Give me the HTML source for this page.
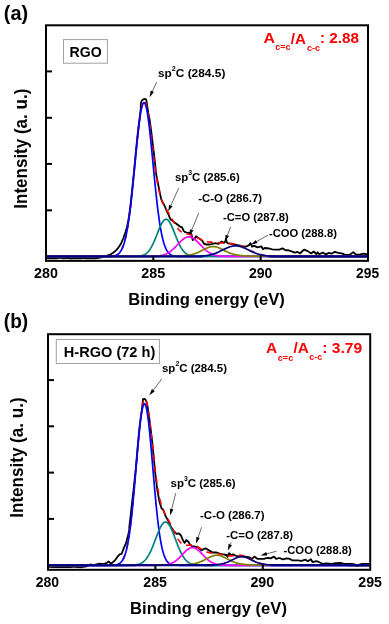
<!DOCTYPE html><html><head><meta charset="utf-8"><style>html,body{margin:0;padding:0;background:#fff;}svg{display:block;will-change:transform;}text{font-family:"Liberation Sans", sans-serif;font-weight:bold;}</style></head><body>
<svg width="389" height="624" viewBox="0 0 389 624">
<rect width="389" height="624" fill="#fff"/>
<clipPath id="clipa"><rect x="47" y="26.3" width="320" height="233.55"/></clipPath>
<g clip-path="url(#clipa)">
<path d="M46.00,258.02 L48.50,258.23 L51.00,258.11 L53.50,258.27 L56.00,258.29 L58.50,257.90 L61.00,257.86 L63.50,258.44 L66.00,258.03 L68.50,258.01 L71.00,258.55 L73.50,258.18 L76.00,258.44 L78.50,258.18 L81.00,258.30 L83.50,257.96 L86.00,258.29 L88.50,258.46 L91.00,258.22 L93.50,258.37 L96.00,258.32 L98.50,257.89 L100.00,257.60 L105.30,256.00 L110.40,254.50 L113.50,252.50 L116.60,249.90 L119.00,246.80 L121.20,243.20 L123.00,239.00 L124.90,233.90 L126.90,227.50 L128.30,220.60 L129.50,213.00 L130.60,205.10 L130.80,202.10 L131.14,199.10 L131.47,196.10 L131.79,193.10 L132.11,190.10 L132.42,187.10 L132.72,184.10 L133.02,181.10 L133.32,178.10 L133.62,175.10 L133.91,172.10 L134.20,169.10 L134.49,166.10 L134.78,163.10 L135.06,160.10 L135.35,157.10 L135.64,154.10 L135.94,151.10 L136.23,148.10 L136.53,145.10 L136.83,142.10 L137.14,139.10 L137.46,136.10 L137.78,133.10 L138.12,130.10 L138.46,127.10 L138.82,124.10 L139.21,121.10 L139.61,118.10 L140.80,108.00 L140.80,104.00 L141.60,100.90 L143.20,99.40 L145.30,98.80 L146.20,99.60 L146.70,102.50 L147.30,106.50 L148.30,113.00 L149.50,119.00 L150.50,126.00 L151.50,133.50 L152.90,145.00 L154.10,154.60 L155.10,164.20 L156.10,173.80 L158.00,183.50 L159.90,193.10 L161.20,199.00 L162.30,201.80 L164.20,205.00 L166.70,210.80 L168.00,213.50 L170.50,219.40 L173.80,221.90 L177.00,224.30 L180.30,226.80 L182.00,227.20 L183.60,230.90 L185.30,232.20 L187.70,233.00 L190.20,232.60 L191.40,234.20 L192.70,240.00 L194.30,239.10 L196.00,236.20 L197.60,237.50 L200.90,239.50 L202.60,241.20 L204.20,244.00 L206.70,244.50 L210.00,244.50 L213.30,243.60 L215.70,243.20 L218.20,244.00 L220.30,242.40 L221.50,241.60 L224.00,242.80 L225.20,241.60 L226.00,238.50 L226.80,242.40 L228.00,243.40 L230.50,243.60 L233.50,244.30 L237.40,245.10 L242.00,246.20 L245.90,246.70 L249.00,245.10 L250.50,243.10 L252.00,246.70 L254.40,245.90 L257.40,247.40 L260.50,246.70 L261.50,246.50 L262.80,249.20 L264.60,248.00 L269.30,248.50 L272.00,249.30 L275.40,249.60 L279.30,249.60 L282.40,248.30 L285.50,250.30 L288.00,250.20 L290.90,251.10 L294.70,252.70 L297.80,251.90 L300.10,253.40 L302.00,251.50 L304.00,249.60 L307.80,251.10 L310.90,253.40 L314.00,251.60 L316.30,254.20 L317.60,252.30 L319.20,254.30 L322.80,252.60 L325.60,254.30 L329.10,252.80 L331.30,253.80 L334.80,251.90 L338.30,252.80 L342.60,253.60 L345.40,255.00 L349.60,255.00 L353.20,252.10 L356.00,254.70 L360.20,254.30 L363.80,253.60 L366.60,254.30 L368.00,254.00" fill="none" stroke="#000" stroke-width="1.8" stroke-linejoin="round"/>
<path d="M46.00,256.43 L46.50,256.43 L47.00,256.43 L47.50,256.43 L48.00,256.43 L48.50,256.43 L49.00,256.43 L49.50,256.43 L50.00,256.43 L50.50,256.43 L51.00,256.43 L51.50,256.43 L52.00,256.43 L52.50,256.43 L53.00,256.43 L53.50,256.43 L54.00,256.43 L54.50,256.43 L55.00,256.43 L55.50,256.43 L56.00,256.43 L56.50,256.43 L57.00,256.43 L57.50,256.43 L58.00,256.43 L58.50,256.43 L59.00,256.43 L59.50,256.43 L60.00,256.43 L60.50,256.43 L61.00,256.43 L61.50,256.43 L62.00,256.43 L62.50,256.43 L63.00,256.43 L63.50,256.43 L64.00,256.43 L64.50,256.43 L65.00,256.43 L65.50,256.43 L66.00,256.43 L66.50,256.43 L67.00,256.43 L67.50,256.43 L68.00,256.43 L68.50,256.42 L69.00,256.42 L69.50,256.42 L70.00,256.42 L70.50,256.42 L71.00,256.42 L71.50,256.42 L72.00,256.42 L72.50,256.42 L73.00,256.42 L73.50,256.42 L74.00,256.42 L74.50,256.42 L75.00,256.42 L75.50,256.42 L76.00,256.42 L76.50,256.42 L77.00,256.42 L77.50,256.42 L78.00,256.42 L78.50,256.42 L79.00,256.42 L79.50,256.42 L80.00,256.42 L80.50,256.42 L81.00,256.42 L81.50,256.42 L82.00,256.42 L82.50,256.42 L83.00,256.42 L83.50,256.42 L84.00,256.42 L84.50,256.42 L85.00,256.42 L85.50,256.42 L86.00,256.42 L86.50,256.42 L87.00,256.42 L87.50,256.42 L88.00,256.42 L88.50,256.42 L89.00,256.42 L89.50,256.42 L90.00,256.42 L90.50,256.42 L91.00,256.41 L91.50,256.41 L92.00,256.41 L92.50,256.41 L93.00,256.41 L93.50,256.41 L94.00,256.41 L94.50,256.41 L95.00,256.41 L95.50,256.41 L96.00,256.41 L96.50,256.41 L97.00,256.41 L97.50,256.41 L98.00,256.41 L98.50,256.41 L99.00,256.41 L99.50,256.41 L100.00,256.41 L100.50,256.41 L101.00,256.41 L101.50,256.41 L102.00,256.41 L102.50,256.40 L103.00,256.40 L103.50,256.40 L104.00,256.40 L104.50,256.40 L105.00,256.39 L105.50,256.39 L106.00,256.38 L106.50,256.38 L107.00,256.37 L107.50,256.36 L108.00,256.35 L108.50,256.34 L109.00,256.32 L109.50,256.31 L110.00,256.28 L110.50,256.25 L111.00,256.22 L111.50,256.18 L112.00,256.13 L112.50,256.07 L113.00,256.00 L113.50,255.92 L114.00,255.82 L114.50,255.70 L115.00,255.56 L115.50,255.40 L116.00,255.21 L116.50,254.98 L117.00,254.72 L117.50,254.42 L118.00,254.07 L118.50,253.67 L119.00,253.21 L119.50,252.68 L120.00,252.07 L120.50,251.39 L121.00,250.61 L121.50,249.73 L122.00,248.75 L122.50,247.64 L123.00,246.41 L123.50,245.04 L124.00,243.52 L124.50,241.84 L125.00,240.00 L125.50,237.98 L126.00,235.77 L126.50,233.37 L127.00,230.77 L127.50,227.96 L128.00,224.95 L128.50,221.72 L129.00,218.28 L129.50,214.62 L130.00,210.76 L130.50,206.70 L131.00,202.44 L131.50,198.00 L132.00,193.38 L132.50,188.62 L133.00,183.71 L133.50,178.69 L134.00,173.59 L134.50,168.42 L135.00,163.21 L135.50,158.00 L136.00,152.82 L136.50,147.70 L137.00,142.67 L137.50,137.78 L138.00,133.06 L138.50,128.55 L139.00,124.27 L139.50,120.26 L140.00,116.56 L140.50,113.19 L141.00,110.19 L141.50,107.57 L142.00,105.35 L142.50,103.56 L143.00,102.21 L143.50,101.30 L144.00,100.84 L144.50,100.83 L145.00,101.26 L145.50,102.13 L146.00,103.41 L146.50,105.11 L147.00,107.18 L147.50,109.62 L148.00,112.38 L148.50,115.44 L149.00,118.77 L149.50,122.33 L150.00,126.08 L150.50,129.99 L151.00,134.02 L151.50,138.13 L152.00,142.29 L152.50,146.47 L153.00,150.62 L153.50,154.72 L154.00,158.75 L154.50,162.67 L155.00,166.46 L155.50,170.10 L156.00,173.58 L156.50,176.89 L157.00,180.01 L157.50,182.94 L158.00,185.67 L158.50,188.21 L159.00,190.56 L159.50,192.72 L160.00,194.70 L160.50,196.51 L161.00,198.16 L161.50,199.66 L162.00,201.03 L162.50,202.29 L163.00,203.43 L163.50,204.49 L164.00,205.48 L164.50,206.40 L165.00,207.27 L165.50,208.11 L166.00,208.92 L166.50,209.71 L167.00,210.51 L167.50,211.30 L168.00,212.09 L168.50,212.90 L169.00,213.73 L169.50,214.57 L170.00,215.42 L170.50,216.29 L171.00,217.18 L171.50,218.07 L172.00,218.98 L172.50,219.88 L173.00,220.79 L173.50,221.69 L174.00,222.58 L174.50,223.45 L175.00,224.30 L175.50,225.13 L176.00,225.93 L176.50,226.69 L177.00,227.42 L177.50,228.11 L178.00,228.75 L178.50,229.35 L179.00,229.90 L179.50,230.41 L180.00,230.88 L180.50,231.29 L181.00,231.67 L181.50,232.00 L182.00,232.30 L182.50,232.56 L183.00,232.78 L183.50,232.98 L184.00,233.15 L184.50,233.30 L185.00,233.43 L185.50,233.54 L186.00,233.64 L186.50,233.74 L187.00,233.83 L187.50,233.92 L188.00,234.01 L188.50,234.10 L189.00,234.21 L189.50,234.32 L190.00,234.44 L190.50,234.57 L191.00,234.72 L191.50,234.88 L192.00,235.06 L192.50,235.25 L193.00,235.46 L193.50,235.67 L194.00,235.91 L194.50,236.15 L195.00,236.40 L195.50,236.67 L196.00,236.94 L196.50,237.22 L197.00,237.50 L197.50,237.78 L198.00,238.07 L198.50,238.36 L199.00,238.64 L199.50,238.92 L200.00,239.19 L200.50,239.45 L201.00,239.71 L201.50,239.95 L202.00,240.18 L202.50,240.41 L203.00,240.61 L203.50,240.81 L204.00,240.98 L204.50,241.15 L205.00,241.30 L205.50,241.43 L206.00,241.55 L206.50,241.66 L207.00,241.75 L207.50,241.83 L208.00,241.90 L208.50,241.95 L209.00,242.00 L209.50,242.05 L210.00,242.08 L210.50,242.11 L211.00,242.14 L211.50,242.16 L212.00,242.19 L212.50,242.21 L213.00,242.24 L213.50,242.26 L214.00,242.29 L214.50,242.32 L215.00,242.35 L215.50,242.39 L216.00,242.43 L216.50,242.47 L217.00,242.52 L217.50,242.56 L218.00,242.61 L218.50,242.65 L219.00,242.70 L219.50,242.75 L220.00,242.79 L220.50,242.84 L221.00,242.88 L221.50,242.92 L222.00,242.96 L222.50,243.00 L223.00,243.04 L223.50,243.07 L224.00,243.10 L224.50,243.13 L225.00,243.16 L225.50,243.19 L226.00,243.21 L226.50,243.24 L227.00,243.26 L227.50,243.28 L228.00,243.31 L228.50,243.33 L229.00,243.36 L229.50,243.39 L230.00,243.42 L230.50,243.46 L231.00,243.50 L231.50,243.55 L232.00,243.60 L232.50,243.65 L233.00,243.72 L233.50,243.79 L234.00,243.86 L234.50,243.95 L235.00,244.04 L235.50,244.14 L236.00,244.25 L236.50,244.37 L237.00,244.50 L237.50,244.64 L238.00,244.79 L238.50,244.94 L239.00,245.11 L239.50,245.29 L240.00,245.47 L240.50,245.66 L241.00,245.87 L241.50,246.08 L242.00,246.29 L242.50,246.52 L243.00,246.75 L243.50,246.99 L244.00,247.23 L244.50,247.48 L245.00,247.73 L245.50,247.98 L246.00,248.24 L246.50,248.50 L247.00,248.77 L247.50,249.03 L248.00,249.29 L248.50,249.56 L249.00,249.82 L249.50,250.08 L250.00,250.34 L250.50,250.59 L251.00,250.85 L251.50,251.10 L252.00,251.34 L252.50,251.58 L253.00,251.81 L253.50,252.04 L254.00,252.26 L254.50,252.48 L255.00,252.69 L255.50,252.89 L256.00,253.09 L256.50,253.28 L257.00,253.46 L257.50,253.64 L258.00,253.81 L258.50,253.97 L259.00,254.12 L259.50,254.27 L260.00,254.41 L260.50,254.54 L261.00,254.67 L261.50,254.78 L262.00,254.90 L262.50,255.00 L263.00,255.10 L263.50,255.20 L264.00,255.28 L264.50,255.37 L265.00,255.44 L265.50,255.52 L266.00,255.58 L266.50,255.65 L267.00,255.71 L267.50,255.76 L268.00,255.81 L268.50,255.86 L269.00,255.90 L269.50,255.94 L270.00,255.98 L270.50,256.01 L271.00,256.04 L271.50,256.07 L272.00,256.09 L272.50,256.12 L273.00,256.14 L273.50,256.16 L274.00,256.18 L274.50,256.20 L275.00,256.21 L275.50,256.22 L276.00,256.24 L276.50,256.25 L277.00,256.26 L277.50,256.27 L278.00,256.28 L278.50,256.29 L279.00,256.29 L279.50,256.30 L280.00,256.31 L280.50,256.31 L281.00,256.32 L281.50,256.32 L282.00,256.32 L282.50,256.33 L283.00,256.33 L283.50,256.33 L284.00,256.34 L284.50,256.34 L285.00,256.34 L285.50,256.35 L286.00,256.35 L286.50,256.35 L287.00,256.35 L287.50,256.35 L288.00,256.36 L288.50,256.36 L289.00,256.36 L289.50,256.36 L290.00,256.36 L290.50,256.36 L291.00,256.36 L291.50,256.37 L292.00,256.37 L292.50,256.37 L293.00,256.37 L293.50,256.37 L294.00,256.37 L294.50,256.37 L295.00,256.37 L295.50,256.37 L296.00,256.37 L296.50,256.38 L297.00,256.38 L297.50,256.38 L298.00,256.38 L298.50,256.38 L299.00,256.38 L299.50,256.38 L300.00,256.38 L300.50,256.38 L301.00,256.38 L301.50,256.38 L302.00,256.38 L302.50,256.39 L303.00,256.39 L303.50,256.39 L304.00,256.39 L304.50,256.39 L305.00,256.39 L305.50,256.39 L306.00,256.39 L306.50,256.39 L307.00,256.39 L307.50,256.39 L308.00,256.39 L308.50,256.39 L309.00,256.39 L309.50,256.39 L310.00,256.39 L310.50,256.40 L311.00,256.40 L311.50,256.40 L312.00,256.40 L312.50,256.40 L313.00,256.40 L313.50,256.40 L314.00,256.40 L314.50,256.40 L315.00,256.40 L315.50,256.40 L316.00,256.40 L316.50,256.40 L317.00,256.40 L317.50,256.40 L318.00,256.40 L318.50,256.40 L319.00,256.40 L319.50,256.40 L320.00,256.40 L320.50,256.40 L321.00,256.41 L321.50,256.41 L322.00,256.41 L322.50,256.41 L323.00,256.41 L323.50,256.41 L324.00,256.41 L324.50,256.41 L325.00,256.41 L325.50,256.41 L326.00,256.41 L326.50,256.41 L327.00,256.41 L327.50,256.41 L328.00,256.41 L328.50,256.41 L329.00,256.41 L329.50,256.41 L330.00,256.41 L330.50,256.41 L331.00,256.41 L331.50,256.41 L332.00,256.41 L332.50,256.41 L333.00,256.41 L333.50,256.41 L334.00,256.41 L334.50,256.41 L335.00,256.41 L335.50,256.42 L336.00,256.42 L336.50,256.42 L337.00,256.42 L337.50,256.42 L338.00,256.42 L338.50,256.42 L339.00,256.42 L339.50,256.42 L340.00,256.42 L340.50,256.42 L341.00,256.42 L341.50,256.42 L342.00,256.42 L342.50,256.42 L343.00,256.42 L343.50,256.42 L344.00,256.42 L344.50,256.42 L345.00,256.42 L345.50,256.42 L346.00,256.42 L346.50,256.42 L347.00,256.42 L347.50,256.42 L348.00,256.42 L348.50,256.42 L349.00,256.42 L349.50,256.42 L350.00,256.42 L350.50,256.42 L351.00,256.42 L351.50,256.42 L352.00,256.42 L352.50,256.42 L353.00,256.42 L353.50,256.42 L354.00,256.42 L354.50,256.42 L355.00,256.42 L355.50,256.42 L356.00,256.42 L356.50,256.42 L357.00,256.42 L357.50,256.42 L358.00,256.42 L358.50,256.43 L359.00,256.43 L359.50,256.43 L360.00,256.43 L360.50,256.43 L361.00,256.43 L361.50,256.43 L362.00,256.43 L362.50,256.43 L363.00,256.43 L363.50,256.43 L364.00,256.43 L364.50,256.43 L365.00,256.43 L365.50,256.43 L366.00,256.43 L366.50,256.43 L367.00,256.43 L367.50,256.43 L368.00,256.43" fill="none" stroke="#ff0000" stroke-width="1.6" stroke-dasharray="6,5"/>
<path d="M46.00,256.45 L46.50,256.45 L47.00,256.45 L47.50,256.45 L48.00,256.45 L48.50,256.45 L49.00,256.45 L49.50,256.45 L50.00,256.45 L50.50,256.45 L51.00,256.45 L51.50,256.45 L52.00,256.45 L52.50,256.45 L53.00,256.45 L53.50,256.45 L54.00,256.45 L54.50,256.45 L55.00,256.45 L55.50,256.45 L56.00,256.45 L56.50,256.45 L57.00,256.45 L57.50,256.45 L58.00,256.45 L58.50,256.45 L59.00,256.45 L59.50,256.45 L60.00,256.45 L60.50,256.45 L61.00,256.45 L61.50,256.45 L62.00,256.45 L62.50,256.45 L63.00,256.45 L63.50,256.45 L64.00,256.45 L64.50,256.45 L65.00,256.45 L65.50,256.45 L66.00,256.45 L66.50,256.45 L67.00,256.45 L67.50,256.45 L68.00,256.45 L68.50,256.45 L69.00,256.45 L69.50,256.45 L70.00,256.45 L70.50,256.45 L71.00,256.45 L71.50,256.45 L72.00,256.45 L72.50,256.45 L73.00,256.45 L73.50,256.45 L74.00,256.45 L74.50,256.45 L75.00,256.45 L75.50,256.45 L76.00,256.45 L76.50,256.45 L77.00,256.45 L77.50,256.45 L78.00,256.45 L78.50,256.45 L79.00,256.45 L79.50,256.45 L80.00,256.45 L80.50,256.45 L81.00,256.45 L81.50,256.45 L82.00,256.45 L82.50,256.45 L83.00,256.45 L83.50,256.45 L84.00,256.45 L84.50,256.45 L85.00,256.45 L85.50,256.45 L86.00,256.45 L86.50,256.45 L87.00,256.45 L87.50,256.45 L88.00,256.45 L88.50,256.45 L89.00,256.45 L89.50,256.45 L90.00,256.45 L90.50,256.45 L91.00,256.45 L91.50,256.45 L92.00,256.45 L92.50,256.45 L93.00,256.45 L93.50,256.45 L94.00,256.45 L94.50,256.45 L95.00,256.45 L95.50,256.45 L96.00,256.45 L96.50,256.45 L97.00,256.45 L97.50,256.45 L98.00,256.45 L98.50,256.45 L99.00,256.45 L99.50,256.45 L100.00,256.45 L100.50,256.45 L101.00,256.45 L101.50,256.45 L102.00,256.45 L102.50,256.45 L103.00,256.45 L103.50,256.44 L104.00,256.44 L104.50,256.44 L105.00,256.44 L105.50,256.43 L106.00,256.43 L106.50,256.42 L107.00,256.42 L107.50,256.41 L108.00,256.40 L108.50,256.39 L109.00,256.37 L109.50,256.35 L110.00,256.33 L110.50,256.30 L111.00,256.27 L111.50,256.23 L112.00,256.18 L112.50,256.12 L113.00,256.05 L113.50,255.97 L114.00,255.87 L114.50,255.75 L115.00,255.62 L115.50,255.45 L116.00,255.26 L116.50,255.04 L117.00,254.78 L117.50,254.48 L118.00,254.13 L118.50,253.73 L119.00,253.27 L119.50,252.74 L120.00,252.13 L120.50,251.45 L121.00,250.67 L121.50,249.80 L122.00,248.81 L122.50,247.71 L123.00,246.48 L123.50,245.11 L124.00,243.59 L124.50,241.91 L125.00,240.07 L125.50,238.04 L126.00,235.84 L126.50,233.44 L127.00,230.84 L127.50,228.03 L128.00,225.02 L128.50,221.79 L129.00,218.36 L129.50,214.71 L130.00,210.85 L130.50,206.79 L131.00,202.53 L131.50,198.09 L132.00,193.48 L132.50,188.72 L133.00,183.83 L133.50,178.82 L134.00,173.72 L134.50,168.56 L135.00,163.37 L135.50,158.18 L136.00,153.02 L136.50,147.92 L137.00,142.93 L137.50,138.08 L138.00,133.39 L138.50,128.93 L139.00,124.70 L139.50,120.76 L140.00,117.14 L140.50,113.86 L141.00,110.96 L141.50,108.45 L142.00,106.37 L142.50,104.73 L143.00,103.55 L143.50,102.84 L144.00,102.60 L144.50,102.84 L145.00,103.55 L145.50,104.73 L146.00,106.37 L146.50,108.45 L147.00,110.96 L147.50,113.86 L148.00,117.14 L148.50,120.76 L149.00,124.70 L149.50,128.93 L150.00,133.39 L150.50,138.08 L151.00,142.93 L151.50,147.92 L152.00,153.02 L152.50,158.18 L153.00,163.37 L153.50,168.56 L154.00,173.72 L154.50,178.82 L155.00,183.83 L155.50,188.72 L156.00,193.48 L156.50,198.09 L157.00,202.53 L157.50,206.79 L158.00,210.85 L158.50,214.71 L159.00,218.36 L159.50,221.79 L160.00,225.02 L160.50,228.03 L161.00,230.84 L161.50,233.44 L162.00,235.84 L162.50,238.04 L163.00,240.07 L163.50,241.91 L164.00,243.59 L164.50,245.11 L165.00,246.48 L165.50,247.71 L166.00,248.81 L166.50,249.80 L167.00,250.67 L167.50,251.45 L168.00,252.13 L168.50,252.74 L169.00,253.27 L169.50,253.73 L170.00,254.13 L170.50,254.48 L171.00,254.78 L171.50,255.04 L172.00,255.26 L172.50,255.45 L173.00,255.62 L173.50,255.75 L174.00,255.87 L174.50,255.97 L175.00,256.05 L175.50,256.12 L176.00,256.18 L176.50,256.23 L177.00,256.27 L177.50,256.30 L178.00,256.33 L178.50,256.35 L179.00,256.37 L179.50,256.39 L180.00,256.40 L180.50,256.41 L181.00,256.42 L181.50,256.42 L182.00,256.43 L182.50,256.43 L183.00,256.44 L183.50,256.44 L184.00,256.44 L184.50,256.44 L185.00,256.45 L185.50,256.45 L186.00,256.45 L186.50,256.45 L187.00,256.45 L187.50,256.45 L188.00,256.45 L188.50,256.45 L189.00,256.45 L189.50,256.45 L190.00,256.45 L190.50,256.45 L191.00,256.45 L191.50,256.45 L192.00,256.45 L192.50,256.45 L193.00,256.45 L193.50,256.45 L194.00,256.45 L194.50,256.45 L195.00,256.45 L195.50,256.45 L196.00,256.45 L196.50,256.45 L197.00,256.45 L197.50,256.45 L198.00,256.45 L198.50,256.45 L199.00,256.45 L199.50,256.45 L200.00,256.45 L200.50,256.45 L201.00,256.45 L201.50,256.45 L202.00,256.45 L202.50,256.45 L203.00,256.45 L203.50,256.45 L204.00,256.45 L204.50,256.45 L205.00,256.45 L205.50,256.45 L206.00,256.45 L206.50,256.45 L207.00,256.45 L207.50,256.45 L208.00,256.45 L208.50,256.45 L209.00,256.45 L209.50,256.45 L210.00,256.45 L210.50,256.45 L211.00,256.45 L211.50,256.45 L212.00,256.45 L212.50,256.45 L213.00,256.45 L213.50,256.45 L214.00,256.45 L214.50,256.45 L215.00,256.45 L215.50,256.45 L216.00,256.45 L216.50,256.45 L217.00,256.45 L217.50,256.45 L218.00,256.45 L218.50,256.45 L219.00,256.45 L219.50,256.45 L220.00,256.45 L220.50,256.45 L221.00,256.45 L221.50,256.45 L222.00,256.45 L222.50,256.45 L223.00,256.45 L223.50,256.45 L224.00,256.45 L224.50,256.45 L225.00,256.45 L225.50,256.45 L226.00,256.45 L226.50,256.45 L227.00,256.45 L227.50,256.45 L228.00,256.45 L228.50,256.45 L229.00,256.45 L229.50,256.45 L230.00,256.45 L230.50,256.45 L231.00,256.45 L231.50,256.45 L232.00,256.45 L232.50,256.45 L233.00,256.45 L233.50,256.45 L234.00,256.45 L234.50,256.45 L235.00,256.45 L235.50,256.45 L236.00,256.45 L236.50,256.45 L237.00,256.45 L237.50,256.45 L238.00,256.45 L238.50,256.45 L239.00,256.45 L239.50,256.45 L240.00,256.45 L240.50,256.45 L241.00,256.45 L241.50,256.45 L242.00,256.45 L242.50,256.45 L243.00,256.45 L243.50,256.45 L244.00,256.45 L244.50,256.45 L245.00,256.45 L245.50,256.45 L246.00,256.45 L246.50,256.45 L247.00,256.45 L247.50,256.45 L248.00,256.45 L248.50,256.45 L249.00,256.45 L249.50,256.45 L250.00,256.45 L250.50,256.45 L251.00,256.45 L251.50,256.45 L252.00,256.45 L252.50,256.45 L253.00,256.45 L253.50,256.45 L254.00,256.45 L254.50,256.45 L255.00,256.45 L255.50,256.45 L256.00,256.45 L256.50,256.45 L257.00,256.45 L257.50,256.45 L258.00,256.45 L258.50,256.45 L259.00,256.45 L259.50,256.45 L260.00,256.45 L260.50,256.45 L261.00,256.45 L261.50,256.45 L262.00,256.45 L262.50,256.45 L263.00,256.45 L263.50,256.45 L264.00,256.45 L264.50,256.45 L265.00,256.45 L265.50,256.45 L266.00,256.45 L266.50,256.45 L267.00,256.45 L267.50,256.45 L268.00,256.45 L268.50,256.45 L269.00,256.45 L269.50,256.45 L270.00,256.45 L270.50,256.45 L271.00,256.45 L271.50,256.45 L272.00,256.45 L272.50,256.45 L273.00,256.45 L273.50,256.45 L274.00,256.45 L274.50,256.45 L275.00,256.45 L275.50,256.45 L276.00,256.45 L276.50,256.45 L277.00,256.45 L277.50,256.45 L278.00,256.45 L278.50,256.45 L279.00,256.45 L279.50,256.45 L280.00,256.45 L280.50,256.45 L281.00,256.45 L281.50,256.45 L282.00,256.45 L282.50,256.45 L283.00,256.45 L283.50,256.45 L284.00,256.45 L284.50,256.45 L285.00,256.45 L285.50,256.45 L286.00,256.45 L286.50,256.45 L287.00,256.45 L287.50,256.45 L288.00,256.45 L288.50,256.45 L289.00,256.45 L289.50,256.45 L290.00,256.45 L290.50,256.45 L291.00,256.45 L291.50,256.45 L292.00,256.45 L292.50,256.45 L293.00,256.45 L293.50,256.45 L294.00,256.45 L294.50,256.45 L295.00,256.45 L295.50,256.45 L296.00,256.45 L296.50,256.45 L297.00,256.45 L297.50,256.45 L298.00,256.45 L298.50,256.45 L299.00,256.45 L299.50,256.45 L300.00,256.45 L300.50,256.45 L301.00,256.45 L301.50,256.45 L302.00,256.45 L302.50,256.45 L303.00,256.45 L303.50,256.45 L304.00,256.45 L304.50,256.45 L305.00,256.45 L305.50,256.45 L306.00,256.45 L306.50,256.45 L307.00,256.45 L307.50,256.45 L308.00,256.45 L308.50,256.45 L309.00,256.45 L309.50,256.45 L310.00,256.45 L310.50,256.45 L311.00,256.45 L311.50,256.45 L312.00,256.45 L312.50,256.45 L313.00,256.45 L313.50,256.45 L314.00,256.45 L314.50,256.45 L315.00,256.45 L315.50,256.45 L316.00,256.45 L316.50,256.45 L317.00,256.45 L317.50,256.45 L318.00,256.45 L318.50,256.45 L319.00,256.45 L319.50,256.45 L320.00,256.45 L320.50,256.45 L321.00,256.45 L321.50,256.45 L322.00,256.45 L322.50,256.45 L323.00,256.45 L323.50,256.45 L324.00,256.45 L324.50,256.45 L325.00,256.45 L325.50,256.45 L326.00,256.45 L326.50,256.45 L327.00,256.45 L327.50,256.45 L328.00,256.45 L328.50,256.45 L329.00,256.45 L329.50,256.45 L330.00,256.45 L330.50,256.45 L331.00,256.45 L331.50,256.45 L332.00,256.45 L332.50,256.45 L333.00,256.45 L333.50,256.45 L334.00,256.45 L334.50,256.45 L335.00,256.45 L335.50,256.45 L336.00,256.45 L336.50,256.45 L337.00,256.45 L337.50,256.45 L338.00,256.45 L338.50,256.45 L339.00,256.45 L339.50,256.45 L340.00,256.45 L340.50,256.45 L341.00,256.45 L341.50,256.45 L342.00,256.45 L342.50,256.45 L343.00,256.45 L343.50,256.45 L344.00,256.45 L344.50,256.45 L345.00,256.45 L345.50,256.45 L346.00,256.45 L346.50,256.45 L347.00,256.45 L347.50,256.45 L348.00,256.45 L348.50,256.45 L349.00,256.45 L349.50,256.45 L350.00,256.45 L350.50,256.45 L351.00,256.45 L351.50,256.45 L352.00,256.45 L352.50,256.45 L353.00,256.45 L353.50,256.45 L354.00,256.45 L354.50,256.45 L355.00,256.45 L355.50,256.45 L356.00,256.45 L356.50,256.45 L357.00,256.45 L357.50,256.45 L358.00,256.45 L358.50,256.45 L359.00,256.45 L359.50,256.45 L360.00,256.45 L360.50,256.45 L361.00,256.45 L361.50,256.45 L362.00,256.45 L362.50,256.45 L363.00,256.45 L363.50,256.45 L364.00,256.45 L364.50,256.45 L365.00,256.45 L365.50,256.45 L366.00,256.45 L366.50,256.45 L367.00,256.45 L367.50,256.45 L368.00,256.45" fill="none" stroke="#0000ff" stroke-width="1.7"/>
<path d="M46.00,256.45 L46.50,256.45 L47.00,256.45 L47.50,256.45 L48.00,256.45 L48.50,256.45 L49.00,256.45 L49.50,256.45 L50.00,256.45 L50.50,256.45 L51.00,256.45 L51.50,256.45 L52.00,256.45 L52.50,256.45 L53.00,256.45 L53.50,256.45 L54.00,256.45 L54.50,256.45 L55.00,256.45 L55.50,256.45 L56.00,256.45 L56.50,256.45 L57.00,256.45 L57.50,256.45 L58.00,256.45 L58.50,256.45 L59.00,256.45 L59.50,256.45 L60.00,256.45 L60.50,256.45 L61.00,256.45 L61.50,256.45 L62.00,256.45 L62.50,256.45 L63.00,256.45 L63.50,256.45 L64.00,256.45 L64.50,256.45 L65.00,256.45 L65.50,256.45 L66.00,256.45 L66.50,256.45 L67.00,256.45 L67.50,256.45 L68.00,256.45 L68.50,256.45 L69.00,256.45 L69.50,256.45 L70.00,256.45 L70.50,256.45 L71.00,256.45 L71.50,256.45 L72.00,256.45 L72.50,256.45 L73.00,256.45 L73.50,256.45 L74.00,256.45 L74.50,256.45 L75.00,256.45 L75.50,256.45 L76.00,256.45 L76.50,256.45 L77.00,256.45 L77.50,256.45 L78.00,256.45 L78.50,256.45 L79.00,256.45 L79.50,256.45 L80.00,256.45 L80.50,256.45 L81.00,256.45 L81.50,256.45 L82.00,256.45 L82.50,256.45 L83.00,256.45 L83.50,256.45 L84.00,256.45 L84.50,256.45 L85.00,256.45 L85.50,256.45 L86.00,256.45 L86.50,256.45 L87.00,256.45 L87.50,256.45 L88.00,256.45 L88.50,256.45 L89.00,256.45 L89.50,256.45 L90.00,256.45 L90.50,256.45 L91.00,256.45 L91.50,256.45 L92.00,256.45 L92.50,256.45 L93.00,256.45 L93.50,256.45 L94.00,256.45 L94.50,256.45 L95.00,256.45 L95.50,256.45 L96.00,256.45 L96.50,256.45 L97.00,256.45 L97.50,256.45 L98.00,256.45 L98.50,256.45 L99.00,256.45 L99.50,256.45 L100.00,256.45 L100.50,256.45 L101.00,256.45 L101.50,256.45 L102.00,256.45 L102.50,256.45 L103.00,256.45 L103.50,256.45 L104.00,256.45 L104.50,256.45 L105.00,256.45 L105.50,256.45 L106.00,256.45 L106.50,256.45 L107.00,256.45 L107.50,256.45 L108.00,256.45 L108.50,256.45 L109.00,256.45 L109.50,256.45 L110.00,256.45 L110.50,256.45 L111.00,256.45 L111.50,256.45 L112.00,256.45 L112.50,256.45 L113.00,256.45 L113.50,256.45 L114.00,256.45 L114.50,256.45 L115.00,256.45 L115.50,256.45 L116.00,256.45 L116.50,256.45 L117.00,256.45 L117.50,256.45 L118.00,256.45 L118.50,256.45 L119.00,256.45 L119.50,256.45 L120.00,256.45 L120.50,256.45 L121.00,256.45 L121.50,256.45 L122.00,256.45 L122.50,256.45 L123.00,256.45 L123.50,256.45 L124.00,256.45 L124.50,256.45 L125.00,256.45 L125.50,256.45 L126.00,256.45 L126.50,256.45 L127.00,256.45 L127.50,256.45 L128.00,256.45 L128.50,256.45 L129.00,256.44 L129.50,256.44 L130.00,256.44 L130.50,256.44 L131.00,256.44 L131.50,256.43 L132.00,256.43 L132.50,256.42 L133.00,256.42 L133.50,256.41 L134.00,256.40 L134.50,256.39 L135.00,256.37 L135.50,256.36 L136.00,256.34 L136.50,256.31 L137.00,256.28 L137.50,256.25 L138.00,256.21 L138.50,256.16 L139.00,256.11 L139.50,256.04 L140.00,255.97 L140.50,255.88 L141.00,255.78 L141.50,255.67 L142.00,255.54 L142.50,255.39 L143.00,255.21 L143.50,255.02 L144.00,254.80 L144.50,254.55 L145.00,254.28 L145.50,253.97 L146.00,253.62 L146.50,253.24 L147.00,252.81 L147.50,252.35 L148.00,251.84 L148.50,251.28 L149.00,250.68 L149.50,250.02 L150.00,249.31 L150.50,248.55 L151.00,247.74 L151.50,246.87 L152.00,245.95 L152.50,244.98 L153.00,243.96 L153.50,242.89 L154.00,241.78 L154.50,240.63 L155.00,239.44 L155.50,238.22 L156.00,236.98 L156.50,235.71 L157.00,234.44 L157.50,233.16 L158.00,231.89 L158.50,230.63 L159.00,229.40 L159.50,228.19 L160.00,227.03 L160.50,225.91 L161.00,224.86 L161.50,223.87 L162.00,222.96 L162.50,222.14 L163.00,221.40 L163.50,220.77 L164.00,220.24 L164.50,219.82 L165.00,219.51 L165.50,219.32 L166.00,219.25 L166.50,219.30 L167.00,219.46 L167.50,219.75 L168.00,220.15 L168.50,220.65 L169.00,221.27 L169.50,221.98 L170.00,222.79 L170.50,223.68 L171.00,224.66 L171.50,225.70 L172.00,226.80 L172.50,227.96 L173.00,229.15 L173.50,230.38 L174.00,231.64 L174.50,232.91 L175.00,234.19 L175.50,235.46 L176.00,236.73 L176.50,237.97 L177.00,239.20 L177.50,240.39 L178.00,241.55 L178.50,242.67 L179.00,243.75 L179.50,244.78 L180.00,245.76 L180.50,246.69 L181.00,247.57 L181.50,248.39 L182.00,249.16 L182.50,249.88 L183.00,250.55 L183.50,251.16 L184.00,251.73 L184.50,252.25 L185.00,252.73 L185.50,253.16 L186.00,253.55 L186.50,253.90 L187.00,254.22 L187.50,254.50 L188.00,254.75 L188.50,254.98 L189.00,255.18 L189.50,255.35 L190.00,255.51 L190.50,255.64 L191.00,255.76 L191.50,255.86 L192.00,255.95 L192.50,256.03 L193.00,256.10 L193.50,256.15 L194.00,256.20 L194.50,256.24 L195.00,256.28 L195.50,256.31 L196.00,256.33 L196.50,256.35 L197.00,256.37 L197.50,256.38 L198.00,256.40 L198.50,256.41 L199.00,256.41 L199.50,256.42 L200.00,256.43 L200.50,256.43 L201.00,256.44 L201.50,256.44 L202.00,256.44 L202.50,256.44 L203.00,256.44 L203.50,256.45 L204.00,256.45 L204.50,256.45 L205.00,256.45 L205.50,256.45 L206.00,256.45 L206.50,256.45 L207.00,256.45 L207.50,256.45 L208.00,256.45 L208.50,256.45 L209.00,256.45 L209.50,256.45 L210.00,256.45 L210.50,256.45 L211.00,256.45 L211.50,256.45 L212.00,256.45 L212.50,256.45 L213.00,256.45 L213.50,256.45 L214.00,256.45 L214.50,256.45 L215.00,256.45 L215.50,256.45 L216.00,256.45 L216.50,256.45 L217.00,256.45 L217.50,256.45 L218.00,256.45 L218.50,256.45 L219.00,256.45 L219.50,256.45 L220.00,256.45 L220.50,256.45 L221.00,256.45 L221.50,256.45 L222.00,256.45 L222.50,256.45 L223.00,256.45 L223.50,256.45 L224.00,256.45 L224.50,256.45 L225.00,256.45 L225.50,256.45 L226.00,256.45 L226.50,256.45 L227.00,256.45 L227.50,256.45 L228.00,256.45 L228.50,256.45 L229.00,256.45 L229.50,256.45 L230.00,256.45 L230.50,256.45 L231.00,256.45 L231.50,256.45 L232.00,256.45 L232.50,256.45 L233.00,256.45 L233.50,256.45 L234.00,256.45 L234.50,256.45 L235.00,256.45 L235.50,256.45 L236.00,256.45 L236.50,256.45 L237.00,256.45 L237.50,256.45 L238.00,256.45 L238.50,256.45 L239.00,256.45 L239.50,256.45 L240.00,256.45 L240.50,256.45 L241.00,256.45 L241.50,256.45 L242.00,256.45 L242.50,256.45 L243.00,256.45 L243.50,256.45 L244.00,256.45 L244.50,256.45 L245.00,256.45 L245.50,256.45 L246.00,256.45 L246.50,256.45 L247.00,256.45 L247.50,256.45 L248.00,256.45 L248.50,256.45 L249.00,256.45 L249.50,256.45 L250.00,256.45 L250.50,256.45 L251.00,256.45 L251.50,256.45 L252.00,256.45 L252.50,256.45 L253.00,256.45 L253.50,256.45 L254.00,256.45 L254.50,256.45 L255.00,256.45 L255.50,256.45 L256.00,256.45 L256.50,256.45 L257.00,256.45 L257.50,256.45 L258.00,256.45 L258.50,256.45 L259.00,256.45 L259.50,256.45 L260.00,256.45 L260.50,256.45 L261.00,256.45 L261.50,256.45 L262.00,256.45 L262.50,256.45 L263.00,256.45 L263.50,256.45 L264.00,256.45 L264.50,256.45 L265.00,256.45 L265.50,256.45 L266.00,256.45 L266.50,256.45 L267.00,256.45 L267.50,256.45 L268.00,256.45 L268.50,256.45 L269.00,256.45 L269.50,256.45 L270.00,256.45 L270.50,256.45 L271.00,256.45 L271.50,256.45 L272.00,256.45 L272.50,256.45 L273.00,256.45 L273.50,256.45 L274.00,256.45 L274.50,256.45 L275.00,256.45 L275.50,256.45 L276.00,256.45 L276.50,256.45 L277.00,256.45 L277.50,256.45 L278.00,256.45 L278.50,256.45 L279.00,256.45 L279.50,256.45 L280.00,256.45 L280.50,256.45 L281.00,256.45 L281.50,256.45 L282.00,256.45 L282.50,256.45 L283.00,256.45 L283.50,256.45 L284.00,256.45 L284.50,256.45 L285.00,256.45 L285.50,256.45 L286.00,256.45 L286.50,256.45 L287.00,256.45 L287.50,256.45 L288.00,256.45 L288.50,256.45 L289.00,256.45 L289.50,256.45 L290.00,256.45 L290.50,256.45 L291.00,256.45 L291.50,256.45 L292.00,256.45 L292.50,256.45 L293.00,256.45 L293.50,256.45 L294.00,256.45 L294.50,256.45 L295.00,256.45 L295.50,256.45 L296.00,256.45 L296.50,256.45 L297.00,256.45 L297.50,256.45 L298.00,256.45 L298.50,256.45 L299.00,256.45 L299.50,256.45 L300.00,256.45 L300.50,256.45 L301.00,256.45 L301.50,256.45 L302.00,256.45 L302.50,256.45 L303.00,256.45 L303.50,256.45 L304.00,256.45 L304.50,256.45 L305.00,256.45 L305.50,256.45 L306.00,256.45 L306.50,256.45 L307.00,256.45 L307.50,256.45 L308.00,256.45 L308.50,256.45 L309.00,256.45 L309.50,256.45 L310.00,256.45 L310.50,256.45 L311.00,256.45 L311.50,256.45 L312.00,256.45 L312.50,256.45 L313.00,256.45 L313.50,256.45 L314.00,256.45 L314.50,256.45 L315.00,256.45 L315.50,256.45 L316.00,256.45 L316.50,256.45 L317.00,256.45 L317.50,256.45 L318.00,256.45 L318.50,256.45 L319.00,256.45 L319.50,256.45 L320.00,256.45 L320.50,256.45 L321.00,256.45 L321.50,256.45 L322.00,256.45 L322.50,256.45 L323.00,256.45 L323.50,256.45 L324.00,256.45 L324.50,256.45 L325.00,256.45 L325.50,256.45 L326.00,256.45 L326.50,256.45 L327.00,256.45 L327.50,256.45 L328.00,256.45 L328.50,256.45 L329.00,256.45 L329.50,256.45 L330.00,256.45 L330.50,256.45 L331.00,256.45 L331.50,256.45 L332.00,256.45 L332.50,256.45 L333.00,256.45 L333.50,256.45 L334.00,256.45 L334.50,256.45 L335.00,256.45 L335.50,256.45 L336.00,256.45 L336.50,256.45 L337.00,256.45 L337.50,256.45 L338.00,256.45 L338.50,256.45 L339.00,256.45 L339.50,256.45 L340.00,256.45 L340.50,256.45 L341.00,256.45 L341.50,256.45 L342.00,256.45 L342.50,256.45 L343.00,256.45 L343.50,256.45 L344.00,256.45 L344.50,256.45 L345.00,256.45 L345.50,256.45 L346.00,256.45 L346.50,256.45 L347.00,256.45 L347.50,256.45 L348.00,256.45 L348.50,256.45 L349.00,256.45 L349.50,256.45 L350.00,256.45 L350.50,256.45 L351.00,256.45 L351.50,256.45 L352.00,256.45 L352.50,256.45 L353.00,256.45 L353.50,256.45 L354.00,256.45 L354.50,256.45 L355.00,256.45 L355.50,256.45 L356.00,256.45 L356.50,256.45 L357.00,256.45 L357.50,256.45 L358.00,256.45 L358.50,256.45 L359.00,256.45 L359.50,256.45 L360.00,256.45 L360.50,256.45 L361.00,256.45 L361.50,256.45 L362.00,256.45 L362.50,256.45 L363.00,256.45 L363.50,256.45 L364.00,256.45 L364.50,256.45 L365.00,256.45 L365.50,256.45 L366.00,256.45 L366.50,256.45 L367.00,256.45 L367.50,256.45 L368.00,256.45" fill="none" stroke="#008080" stroke-width="1.7"/>
<path d="M46.00,256.45 L46.50,256.45 L47.00,256.45 L47.50,256.45 L48.00,256.45 L48.50,256.45 L49.00,256.45 L49.50,256.45 L50.00,256.45 L50.50,256.45 L51.00,256.45 L51.50,256.45 L52.00,256.45 L52.50,256.45 L53.00,256.45 L53.50,256.45 L54.00,256.45 L54.50,256.45 L55.00,256.45 L55.50,256.45 L56.00,256.45 L56.50,256.45 L57.00,256.45 L57.50,256.45 L58.00,256.45 L58.50,256.45 L59.00,256.45 L59.50,256.45 L60.00,256.45 L60.50,256.45 L61.00,256.45 L61.50,256.45 L62.00,256.45 L62.50,256.45 L63.00,256.45 L63.50,256.45 L64.00,256.45 L64.50,256.45 L65.00,256.45 L65.50,256.45 L66.00,256.45 L66.50,256.45 L67.00,256.45 L67.50,256.45 L68.00,256.45 L68.50,256.45 L69.00,256.45 L69.50,256.45 L70.00,256.45 L70.50,256.45 L71.00,256.45 L71.50,256.45 L72.00,256.45 L72.50,256.45 L73.00,256.45 L73.50,256.45 L74.00,256.45 L74.50,256.45 L75.00,256.45 L75.50,256.45 L76.00,256.45 L76.50,256.45 L77.00,256.45 L77.50,256.45 L78.00,256.45 L78.50,256.45 L79.00,256.45 L79.50,256.45 L80.00,256.45 L80.50,256.45 L81.00,256.45 L81.50,256.45 L82.00,256.45 L82.50,256.45 L83.00,256.45 L83.50,256.45 L84.00,256.45 L84.50,256.45 L85.00,256.45 L85.50,256.45 L86.00,256.45 L86.50,256.45 L87.00,256.45 L87.50,256.45 L88.00,256.45 L88.50,256.45 L89.00,256.45 L89.50,256.45 L90.00,256.45 L90.50,256.45 L91.00,256.45 L91.50,256.45 L92.00,256.45 L92.50,256.45 L93.00,256.45 L93.50,256.45 L94.00,256.45 L94.50,256.45 L95.00,256.45 L95.50,256.45 L96.00,256.45 L96.50,256.45 L97.00,256.45 L97.50,256.45 L98.00,256.45 L98.50,256.45 L99.00,256.45 L99.50,256.45 L100.00,256.45 L100.50,256.45 L101.00,256.45 L101.50,256.45 L102.00,256.45 L102.50,256.45 L103.00,256.45 L103.50,256.45 L104.00,256.45 L104.50,256.45 L105.00,256.45 L105.50,256.45 L106.00,256.45 L106.50,256.45 L107.00,256.45 L107.50,256.45 L108.00,256.45 L108.50,256.45 L109.00,256.45 L109.50,256.45 L110.00,256.45 L110.50,256.45 L111.00,256.45 L111.50,256.45 L112.00,256.45 L112.50,256.45 L113.00,256.45 L113.50,256.45 L114.00,256.45 L114.50,256.45 L115.00,256.45 L115.50,256.45 L116.00,256.45 L116.50,256.45 L117.00,256.45 L117.50,256.45 L118.00,256.45 L118.50,256.45 L119.00,256.45 L119.50,256.45 L120.00,256.45 L120.50,256.45 L121.00,256.45 L121.50,256.45 L122.00,256.45 L122.50,256.45 L123.00,256.45 L123.50,256.45 L124.00,256.45 L124.50,256.45 L125.00,256.45 L125.50,256.45 L126.00,256.45 L126.50,256.45 L127.00,256.45 L127.50,256.45 L128.00,256.45 L128.50,256.45 L129.00,256.45 L129.50,256.45 L130.00,256.45 L130.50,256.45 L131.00,256.45 L131.50,256.45 L132.00,256.45 L132.50,256.45 L133.00,256.45 L133.50,256.45 L134.00,256.45 L134.50,256.45 L135.00,256.45 L135.50,256.45 L136.00,256.45 L136.50,256.45 L137.00,256.45 L137.50,256.45 L138.00,256.45 L138.50,256.45 L139.00,256.45 L139.50,256.45 L140.00,256.45 L140.50,256.45 L141.00,256.45 L141.50,256.45 L142.00,256.45 L142.50,256.45 L143.00,256.45 L143.50,256.44 L144.00,256.44 L144.50,256.44 L145.00,256.44 L145.50,256.44 L146.00,256.44 L146.50,256.43 L147.00,256.43 L147.50,256.43 L148.00,256.42 L148.50,256.42 L149.00,256.41 L149.50,256.41 L150.00,256.40 L150.50,256.39 L151.00,256.38 L151.50,256.37 L152.00,256.36 L152.50,256.35 L153.00,256.33 L153.50,256.31 L154.00,256.29 L154.50,256.27 L155.00,256.24 L155.50,256.21 L156.00,256.18 L156.50,256.14 L157.00,256.10 L157.50,256.05 L158.00,256.00 L158.50,255.94 L159.00,255.88 L159.50,255.80 L160.00,255.73 L160.50,255.64 L161.00,255.54 L161.50,255.44 L162.00,255.32 L162.50,255.20 L163.00,255.06 L163.50,254.92 L164.00,254.76 L164.50,254.58 L165.00,254.39 L165.50,254.19 L166.00,253.98 L166.50,253.75 L167.00,253.50 L167.50,253.24 L168.00,252.96 L168.50,252.66 L169.00,252.35 L169.50,252.01 L170.00,251.67 L170.50,251.30 L171.00,250.92 L171.50,250.52 L172.00,250.10 L172.50,249.67 L173.00,249.23 L173.50,248.77 L174.00,248.29 L174.50,247.81 L175.00,247.31 L175.50,246.80 L176.00,246.29 L176.50,245.77 L177.00,245.24 L177.50,244.72 L178.00,244.19 L178.50,243.66 L179.00,243.14 L179.50,242.62 L180.00,242.11 L180.50,241.62 L181.00,241.13 L181.50,240.66 L182.00,240.21 L182.50,239.78 L183.00,239.37 L183.50,238.98 L184.00,238.62 L184.50,238.29 L185.00,237.99 L185.50,237.72 L186.00,237.49 L186.50,237.29 L187.00,237.13 L187.50,237.00 L188.00,236.91 L188.50,236.86 L189.00,236.85 L189.50,236.88 L190.00,236.94 L190.50,237.05 L191.00,237.19 L191.50,237.37 L192.00,237.58 L192.50,237.83 L193.00,238.11 L193.50,238.42 L194.00,238.76 L194.50,239.13 L195.00,239.53 L195.50,239.95 L196.00,240.39 L196.50,240.85 L197.00,241.32 L197.50,241.81 L198.00,242.32 L198.50,242.83 L199.00,243.35 L199.50,243.87 L200.00,244.40 L200.50,244.93 L201.00,245.45 L201.50,245.98 L202.00,246.50 L202.50,247.01 L203.00,247.51 L203.50,248.00 L204.00,248.48 L204.50,248.95 L205.00,249.41 L205.50,249.85 L206.00,250.27 L206.50,250.68 L207.00,251.07 L207.50,251.45 L208.00,251.81 L208.50,252.15 L209.00,252.47 L209.50,252.78 L210.00,253.07 L210.50,253.34 L211.00,253.60 L211.50,253.84 L212.00,254.07 L212.50,254.28 L213.00,254.47 L213.50,254.65 L214.00,254.82 L214.50,254.98 L215.00,255.12 L215.50,255.25 L216.00,255.37 L216.50,255.48 L217.00,255.58 L217.50,255.67 L218.00,255.76 L218.50,255.83 L219.00,255.90 L219.50,255.96 L220.00,256.02 L220.50,256.07 L221.00,256.11 L221.50,256.15 L222.00,256.19 L222.50,256.22 L223.00,256.25 L223.50,256.28 L224.00,256.30 L224.50,256.32 L225.00,256.34 L225.50,256.35 L226.00,256.36 L226.50,256.38 L227.00,256.39 L227.50,256.40 L228.00,256.40 L228.50,256.41 L229.00,256.42 L229.50,256.42 L230.00,256.43 L230.50,256.43 L231.00,256.43 L231.50,256.43 L232.00,256.44 L232.50,256.44 L233.00,256.44 L233.50,256.44 L234.00,256.44 L234.50,256.44 L235.00,256.45 L235.50,256.45 L236.00,256.45 L236.50,256.45 L237.00,256.45 L237.50,256.45 L238.00,256.45 L238.50,256.45 L239.00,256.45 L239.50,256.45 L240.00,256.45 L240.50,256.45 L241.00,256.45 L241.50,256.45 L242.00,256.45 L242.50,256.45 L243.00,256.45 L243.50,256.45 L244.00,256.45 L244.50,256.45 L245.00,256.45 L245.50,256.45 L246.00,256.45 L246.50,256.45 L247.00,256.45 L247.50,256.45 L248.00,256.45 L248.50,256.45 L249.00,256.45 L249.50,256.45 L250.00,256.45 L250.50,256.45 L251.00,256.45 L251.50,256.45 L252.00,256.45 L252.50,256.45 L253.00,256.45 L253.50,256.45 L254.00,256.45 L254.50,256.45 L255.00,256.45 L255.50,256.45 L256.00,256.45 L256.50,256.45 L257.00,256.45 L257.50,256.45 L258.00,256.45 L258.50,256.45 L259.00,256.45 L259.50,256.45 L260.00,256.45 L260.50,256.45 L261.00,256.45 L261.50,256.45 L262.00,256.45 L262.50,256.45 L263.00,256.45 L263.50,256.45 L264.00,256.45 L264.50,256.45 L265.00,256.45 L265.50,256.45 L266.00,256.45 L266.50,256.45 L267.00,256.45 L267.50,256.45 L268.00,256.45 L268.50,256.45 L269.00,256.45 L269.50,256.45 L270.00,256.45 L270.50,256.45 L271.00,256.45 L271.50,256.45 L272.00,256.45 L272.50,256.45 L273.00,256.45 L273.50,256.45 L274.00,256.45 L274.50,256.45 L275.00,256.45 L275.50,256.45 L276.00,256.45 L276.50,256.45 L277.00,256.45 L277.50,256.45 L278.00,256.45 L278.50,256.45 L279.00,256.45 L279.50,256.45 L280.00,256.45 L280.50,256.45 L281.00,256.45 L281.50,256.45 L282.00,256.45 L282.50,256.45 L283.00,256.45 L283.50,256.45 L284.00,256.45 L284.50,256.45 L285.00,256.45 L285.50,256.45 L286.00,256.45 L286.50,256.45 L287.00,256.45 L287.50,256.45 L288.00,256.45 L288.50,256.45 L289.00,256.45 L289.50,256.45 L290.00,256.45 L290.50,256.45 L291.00,256.45 L291.50,256.45 L292.00,256.45 L292.50,256.45 L293.00,256.45 L293.50,256.45 L294.00,256.45 L294.50,256.45 L295.00,256.45 L295.50,256.45 L296.00,256.45 L296.50,256.45 L297.00,256.45 L297.50,256.45 L298.00,256.45 L298.50,256.45 L299.00,256.45 L299.50,256.45 L300.00,256.45 L300.50,256.45 L301.00,256.45 L301.50,256.45 L302.00,256.45 L302.50,256.45 L303.00,256.45 L303.50,256.45 L304.00,256.45 L304.50,256.45 L305.00,256.45 L305.50,256.45 L306.00,256.45 L306.50,256.45 L307.00,256.45 L307.50,256.45 L308.00,256.45 L308.50,256.45 L309.00,256.45 L309.50,256.45 L310.00,256.45 L310.50,256.45 L311.00,256.45 L311.50,256.45 L312.00,256.45 L312.50,256.45 L313.00,256.45 L313.50,256.45 L314.00,256.45 L314.50,256.45 L315.00,256.45 L315.50,256.45 L316.00,256.45 L316.50,256.45 L317.00,256.45 L317.50,256.45 L318.00,256.45 L318.50,256.45 L319.00,256.45 L319.50,256.45 L320.00,256.45 L320.50,256.45 L321.00,256.45 L321.50,256.45 L322.00,256.45 L322.50,256.45 L323.00,256.45 L323.50,256.45 L324.00,256.45 L324.50,256.45 L325.00,256.45 L325.50,256.45 L326.00,256.45 L326.50,256.45 L327.00,256.45 L327.50,256.45 L328.00,256.45 L328.50,256.45 L329.00,256.45 L329.50,256.45 L330.00,256.45 L330.50,256.45 L331.00,256.45 L331.50,256.45 L332.00,256.45 L332.50,256.45 L333.00,256.45 L333.50,256.45 L334.00,256.45 L334.50,256.45 L335.00,256.45 L335.50,256.45 L336.00,256.45 L336.50,256.45 L337.00,256.45 L337.50,256.45 L338.00,256.45 L338.50,256.45 L339.00,256.45 L339.50,256.45 L340.00,256.45 L340.50,256.45 L341.00,256.45 L341.50,256.45 L342.00,256.45 L342.50,256.45 L343.00,256.45 L343.50,256.45 L344.00,256.45 L344.50,256.45 L345.00,256.45 L345.50,256.45 L346.00,256.45 L346.50,256.45 L347.00,256.45 L347.50,256.45 L348.00,256.45 L348.50,256.45 L349.00,256.45 L349.50,256.45 L350.00,256.45 L350.50,256.45 L351.00,256.45 L351.50,256.45 L352.00,256.45 L352.50,256.45 L353.00,256.45 L353.50,256.45 L354.00,256.45 L354.50,256.45 L355.00,256.45 L355.50,256.45 L356.00,256.45 L356.50,256.45 L357.00,256.45 L357.50,256.45 L358.00,256.45 L358.50,256.45 L359.00,256.45 L359.50,256.45 L360.00,256.45 L360.50,256.45 L361.00,256.45 L361.50,256.45 L362.00,256.45 L362.50,256.45 L363.00,256.45 L363.50,256.45 L364.00,256.45 L364.50,256.45 L365.00,256.45 L365.50,256.45 L366.00,256.45 L366.50,256.45 L367.00,256.45 L367.50,256.45 L368.00,256.45" fill="none" stroke="#ff00ff" stroke-width="1.7"/>
<path d="M46.00,256.43 L46.50,256.43 L47.00,256.43 L47.50,256.43 L48.00,256.43 L48.50,256.43 L49.00,256.43 L49.50,256.43 L50.00,256.43 L50.50,256.43 L51.00,256.43 L51.50,256.43 L52.00,256.43 L52.50,256.43 L53.00,256.43 L53.50,256.43 L54.00,256.43 L54.50,256.43 L55.00,256.43 L55.50,256.43 L56.00,256.43 L56.50,256.43 L57.00,256.43 L57.50,256.43 L58.00,256.43 L58.50,256.43 L59.00,256.43 L59.50,256.43 L60.00,256.43 L60.50,256.43 L61.00,256.43 L61.50,256.43 L62.00,256.43 L62.50,256.43 L63.00,256.43 L63.50,256.43 L64.00,256.43 L64.50,256.43 L65.00,256.43 L65.50,256.43 L66.00,256.43 L66.50,256.43 L67.00,256.43 L67.50,256.43 L68.00,256.43 L68.50,256.42 L69.00,256.42 L69.50,256.42 L70.00,256.42 L70.50,256.42 L71.00,256.42 L71.50,256.42 L72.00,256.42 L72.50,256.42 L73.00,256.42 L73.50,256.42 L74.00,256.42 L74.50,256.42 L75.00,256.42 L75.50,256.42 L76.00,256.42 L76.50,256.42 L77.00,256.42 L77.50,256.42 L78.00,256.42 L78.50,256.42 L79.00,256.42 L79.50,256.42 L80.00,256.42 L80.50,256.42 L81.00,256.42 L81.50,256.42 L82.00,256.42 L82.50,256.42 L83.00,256.42 L83.50,256.42 L84.00,256.42 L84.50,256.42 L85.00,256.42 L85.50,256.42 L86.00,256.42 L86.50,256.42 L87.00,256.42 L87.50,256.42 L88.00,256.42 L88.50,256.42 L89.00,256.42 L89.50,256.42 L90.00,256.42 L90.50,256.42 L91.00,256.41 L91.50,256.41 L92.00,256.41 L92.50,256.41 L93.00,256.41 L93.50,256.41 L94.00,256.41 L94.50,256.41 L95.00,256.41 L95.50,256.41 L96.00,256.41 L96.50,256.41 L97.00,256.41 L97.50,256.41 L98.00,256.41 L98.50,256.41 L99.00,256.41 L99.50,256.41 L100.00,256.41 L100.50,256.41 L101.00,256.41 L101.50,256.41 L102.00,256.41 L102.50,256.41 L103.00,256.41 L103.50,256.41 L104.00,256.41 L104.50,256.41 L105.00,256.41 L105.50,256.41 L106.00,256.40 L106.50,256.40 L107.00,256.40 L107.50,256.40 L108.00,256.40 L108.50,256.40 L109.00,256.40 L109.50,256.40 L110.00,256.40 L110.50,256.40 L111.00,256.40 L111.50,256.40 L112.00,256.40 L112.50,256.40 L113.00,256.40 L113.50,256.40 L114.00,256.40 L114.50,256.40 L115.00,256.40 L115.50,256.40 L116.00,256.39 L116.50,256.39 L117.00,256.39 L117.50,256.39 L118.00,256.39 L118.50,256.39 L119.00,256.39 L119.50,256.39 L120.00,256.39 L120.50,256.39 L121.00,256.39 L121.50,256.39 L122.00,256.39 L122.50,256.39 L123.00,256.39 L123.50,256.39 L124.00,256.38 L124.50,256.38 L125.00,256.38 L125.50,256.38 L126.00,256.38 L126.50,256.38 L127.00,256.38 L127.50,256.38 L128.00,256.38 L128.50,256.38 L129.00,256.38 L129.50,256.38 L130.00,256.38 L130.50,256.37 L131.00,256.37 L131.50,256.37 L132.00,256.37 L132.50,256.37 L133.00,256.37 L133.50,256.37 L134.00,256.37 L134.50,256.37 L135.00,256.37 L135.50,256.36 L136.00,256.36 L136.50,256.36 L137.00,256.36 L137.50,256.36 L138.00,256.36 L138.50,256.36 L139.00,256.36 L139.50,256.36 L140.00,256.35 L140.50,256.35 L141.00,256.35 L141.50,256.35 L142.00,256.35 L142.50,256.35 L143.00,256.35 L143.50,256.34 L144.00,256.34 L144.50,256.34 L145.00,256.34 L145.50,256.34 L146.00,256.34 L146.50,256.34 L147.00,256.33 L147.50,256.33 L148.00,256.33 L148.50,256.33 L149.00,256.33 L149.50,256.32 L150.00,256.32 L150.50,256.32 L151.00,256.32 L151.50,256.32 L152.00,256.31 L152.50,256.31 L153.00,256.31 L153.50,256.31 L154.00,256.31 L154.50,256.30 L155.00,256.30 L155.50,256.30 L156.00,256.30 L156.50,256.29 L157.00,256.29 L157.50,256.29 L158.00,256.29 L158.50,256.28 L159.00,256.28 L159.50,256.28 L160.00,256.27 L160.50,256.27 L161.00,256.27 L161.50,256.26 L162.00,256.26 L162.50,256.26 L163.00,256.25 L163.50,256.25 L164.00,256.25 L164.50,256.24 L165.00,256.24 L165.50,256.23 L166.00,256.23 L166.50,256.22 L167.00,256.22 L167.50,256.21 L168.00,256.21 L168.50,256.20 L169.00,256.20 L169.50,256.19 L170.00,256.19 L170.50,256.18 L171.00,256.17 L171.50,256.17 L172.00,256.16 L172.50,256.15 L173.00,256.14 L173.50,256.13 L174.00,256.13 L174.50,256.12 L175.00,256.11 L175.50,256.09 L176.00,256.08 L176.50,256.07 L177.00,256.06 L177.50,256.04 L178.00,256.03 L178.50,256.01 L179.00,255.99 L179.50,255.97 L180.00,255.95 L180.50,255.93 L181.00,255.90 L181.50,255.88 L182.00,255.85 L182.50,255.82 L183.00,255.78 L183.50,255.75 L184.00,255.71 L184.50,255.67 L185.00,255.62 L185.50,255.57 L186.00,255.52 L186.50,255.46 L187.00,255.40 L187.50,255.33 L188.00,255.26 L188.50,255.18 L189.00,255.10 L189.50,255.01 L190.00,254.91 L190.50,254.81 L191.00,254.70 L191.50,254.59 L192.00,254.47 L192.50,254.34 L193.00,254.20 L193.50,254.06 L194.00,253.90 L194.50,253.75 L195.00,253.58 L195.50,253.40 L196.00,253.22 L196.50,253.03 L197.00,252.84 L197.50,252.63 L198.00,252.42 L198.50,252.20 L199.00,251.98 L199.50,251.75 L200.00,251.51 L200.50,251.27 L201.00,251.02 L201.50,250.77 L202.00,250.52 L202.50,250.27 L203.00,250.01 L203.50,249.76 L204.00,249.51 L204.50,249.25 L205.00,249.00 L205.50,248.76 L206.00,248.52 L206.50,248.29 L207.00,248.07 L207.50,247.85 L208.00,247.65 L208.50,247.46 L209.00,247.29 L209.50,247.13 L210.00,246.98 L210.50,246.86 L211.00,246.76 L211.50,246.67 L212.00,246.61 L212.50,246.57 L213.00,246.55 L213.50,246.56 L214.00,246.58 L214.50,246.63 L215.00,246.70 L215.50,246.80 L216.00,246.91 L216.50,247.04 L217.00,247.19 L217.50,247.35 L218.00,247.53 L218.50,247.73 L219.00,247.94 L219.50,248.15 L220.00,248.38 L220.50,248.62 L221.00,248.86 L221.50,249.10 L222.00,249.35 L222.50,249.61 L223.00,249.86 L223.50,250.12 L224.00,250.37 L224.50,250.62 L225.00,250.87 L225.50,251.12 L226.00,251.37 L226.50,251.60 L227.00,251.84 L227.50,252.07 L228.00,252.29 L228.50,252.50 L229.00,252.71 L229.50,252.91 L230.00,253.11 L230.50,253.30 L231.00,253.48 L231.50,253.65 L232.00,253.81 L232.50,253.97 L233.00,254.11 L233.50,254.26 L234.00,254.39 L234.50,254.51 L235.00,254.63 L235.50,254.75 L236.00,254.85 L236.50,254.95 L237.00,255.04 L237.50,255.13 L238.00,255.21 L238.50,255.29 L239.00,255.36 L239.50,255.42 L240.00,255.48 L240.50,255.54 L241.00,255.59 L241.50,255.64 L242.00,255.68 L242.50,255.72 L243.00,255.76 L243.50,255.80 L244.00,255.83 L244.50,255.86 L245.00,255.89 L245.50,255.91 L246.00,255.94 L246.50,255.96 L247.00,255.98 L247.50,256.00 L248.00,256.02 L248.50,256.03 L249.00,256.05 L249.50,256.06 L250.00,256.08 L250.50,256.09 L251.00,256.10 L251.50,256.11 L252.00,256.12 L252.50,256.13 L253.00,256.14 L253.50,256.15 L254.00,256.15 L254.50,256.16 L255.00,256.17 L255.50,256.18 L256.00,256.18 L256.50,256.19 L257.00,256.19 L257.50,256.20 L258.00,256.21 L258.50,256.21 L259.00,256.22 L259.50,256.22 L260.00,256.23 L260.50,256.23 L261.00,256.23 L261.50,256.24 L262.00,256.24 L262.50,256.25 L263.00,256.25 L263.50,256.25 L264.00,256.26 L264.50,256.26 L265.00,256.26 L265.50,256.27 L266.00,256.27 L266.50,256.27 L267.00,256.28 L267.50,256.28 L268.00,256.28 L268.50,256.29 L269.00,256.29 L269.50,256.29 L270.00,256.29 L270.50,256.30 L271.00,256.30 L271.50,256.30 L272.00,256.30 L272.50,256.31 L273.00,256.31 L273.50,256.31 L274.00,256.31 L274.50,256.32 L275.00,256.32 L275.50,256.32 L276.00,256.32 L276.50,256.32 L277.00,256.33 L277.50,256.33 L278.00,256.33 L278.50,256.33 L279.00,256.33 L279.50,256.33 L280.00,256.34 L280.50,256.34 L281.00,256.34 L281.50,256.34 L282.00,256.34 L282.50,256.34 L283.00,256.35 L283.50,256.35 L284.00,256.35 L284.50,256.35 L285.00,256.35 L285.50,256.35 L286.00,256.35 L286.50,256.35 L287.00,256.36 L287.50,256.36 L288.00,256.36 L288.50,256.36 L289.00,256.36 L289.50,256.36 L290.00,256.36 L290.50,256.36 L291.00,256.37 L291.50,256.37 L292.00,256.37 L292.50,256.37 L293.00,256.37 L293.50,256.37 L294.00,256.37 L294.50,256.37 L295.00,256.37 L295.50,256.37 L296.00,256.37 L296.50,256.38 L297.00,256.38 L297.50,256.38 L298.00,256.38 L298.50,256.38 L299.00,256.38 L299.50,256.38 L300.00,256.38 L300.50,256.38 L301.00,256.38 L301.50,256.38 L302.00,256.38 L302.50,256.39 L303.00,256.39 L303.50,256.39 L304.00,256.39 L304.50,256.39 L305.00,256.39 L305.50,256.39 L306.00,256.39 L306.50,256.39 L307.00,256.39 L307.50,256.39 L308.00,256.39 L308.50,256.39 L309.00,256.39 L309.50,256.39 L310.00,256.39 L310.50,256.40 L311.00,256.40 L311.50,256.40 L312.00,256.40 L312.50,256.40 L313.00,256.40 L313.50,256.40 L314.00,256.40 L314.50,256.40 L315.00,256.40 L315.50,256.40 L316.00,256.40 L316.50,256.40 L317.00,256.40 L317.50,256.40 L318.00,256.40 L318.50,256.40 L319.00,256.40 L319.50,256.40 L320.00,256.40 L320.50,256.40 L321.00,256.41 L321.50,256.41 L322.00,256.41 L322.50,256.41 L323.00,256.41 L323.50,256.41 L324.00,256.41 L324.50,256.41 L325.00,256.41 L325.50,256.41 L326.00,256.41 L326.50,256.41 L327.00,256.41 L327.50,256.41 L328.00,256.41 L328.50,256.41 L329.00,256.41 L329.50,256.41 L330.00,256.41 L330.50,256.41 L331.00,256.41 L331.50,256.41 L332.00,256.41 L332.50,256.41 L333.00,256.41 L333.50,256.41 L334.00,256.41 L334.50,256.41 L335.00,256.41 L335.50,256.42 L336.00,256.42 L336.50,256.42 L337.00,256.42 L337.50,256.42 L338.00,256.42 L338.50,256.42 L339.00,256.42 L339.50,256.42 L340.00,256.42 L340.50,256.42 L341.00,256.42 L341.50,256.42 L342.00,256.42 L342.50,256.42 L343.00,256.42 L343.50,256.42 L344.00,256.42 L344.50,256.42 L345.00,256.42 L345.50,256.42 L346.00,256.42 L346.50,256.42 L347.00,256.42 L347.50,256.42 L348.00,256.42 L348.50,256.42 L349.00,256.42 L349.50,256.42 L350.00,256.42 L350.50,256.42 L351.00,256.42 L351.50,256.42 L352.00,256.42 L352.50,256.42 L353.00,256.42 L353.50,256.42 L354.00,256.42 L354.50,256.42 L355.00,256.42 L355.50,256.42 L356.00,256.42 L356.50,256.42 L357.00,256.42 L357.50,256.42 L358.00,256.42 L358.50,256.43 L359.00,256.43 L359.50,256.43 L360.00,256.43 L360.50,256.43 L361.00,256.43 L361.50,256.43 L362.00,256.43 L362.50,256.43 L363.00,256.43 L363.50,256.43 L364.00,256.43 L364.50,256.43 L365.00,256.43 L365.50,256.43 L366.00,256.43 L366.50,256.43 L367.00,256.43 L367.50,256.43 L368.00,256.43" fill="none" stroke="#808000" stroke-width="1.7"/>
<path d="M46.00,256.45 L46.50,256.45 L47.00,256.45 L47.50,256.45 L48.00,256.45 L48.50,256.45 L49.00,256.45 L49.50,256.45 L50.00,256.45 L50.50,256.45 L51.00,256.45 L51.50,256.45 L52.00,256.45 L52.50,256.45 L53.00,256.45 L53.50,256.45 L54.00,256.45 L54.50,256.45 L55.00,256.45 L55.50,256.45 L56.00,256.45 L56.50,256.45 L57.00,256.45 L57.50,256.45 L58.00,256.45 L58.50,256.45 L59.00,256.45 L59.50,256.45 L60.00,256.45 L60.50,256.45 L61.00,256.45 L61.50,256.45 L62.00,256.45 L62.50,256.45 L63.00,256.45 L63.50,256.45 L64.00,256.45 L64.50,256.45 L65.00,256.45 L65.50,256.45 L66.00,256.45 L66.50,256.45 L67.00,256.45 L67.50,256.45 L68.00,256.45 L68.50,256.45 L69.00,256.45 L69.50,256.45 L70.00,256.45 L70.50,256.45 L71.00,256.45 L71.50,256.45 L72.00,256.45 L72.50,256.45 L73.00,256.45 L73.50,256.45 L74.00,256.45 L74.50,256.45 L75.00,256.45 L75.50,256.45 L76.00,256.45 L76.50,256.45 L77.00,256.45 L77.50,256.45 L78.00,256.45 L78.50,256.45 L79.00,256.45 L79.50,256.45 L80.00,256.45 L80.50,256.45 L81.00,256.45 L81.50,256.45 L82.00,256.45 L82.50,256.45 L83.00,256.45 L83.50,256.45 L84.00,256.45 L84.50,256.45 L85.00,256.45 L85.50,256.45 L86.00,256.45 L86.50,256.45 L87.00,256.45 L87.50,256.45 L88.00,256.45 L88.50,256.45 L89.00,256.45 L89.50,256.45 L90.00,256.45 L90.50,256.45 L91.00,256.45 L91.50,256.45 L92.00,256.45 L92.50,256.45 L93.00,256.45 L93.50,256.45 L94.00,256.45 L94.50,256.45 L95.00,256.45 L95.50,256.45 L96.00,256.45 L96.50,256.45 L97.00,256.45 L97.50,256.45 L98.00,256.45 L98.50,256.45 L99.00,256.45 L99.50,256.45 L100.00,256.45 L100.50,256.45 L101.00,256.45 L101.50,256.45 L102.00,256.45 L102.50,256.45 L103.00,256.45 L103.50,256.45 L104.00,256.45 L104.50,256.45 L105.00,256.45 L105.50,256.45 L106.00,256.45 L106.50,256.45 L107.00,256.45 L107.50,256.45 L108.00,256.45 L108.50,256.45 L109.00,256.45 L109.50,256.45 L110.00,256.45 L110.50,256.45 L111.00,256.45 L111.50,256.45 L112.00,256.45 L112.50,256.45 L113.00,256.45 L113.50,256.45 L114.00,256.45 L114.50,256.45 L115.00,256.45 L115.50,256.45 L116.00,256.45 L116.50,256.45 L117.00,256.45 L117.50,256.45 L118.00,256.45 L118.50,256.45 L119.00,256.45 L119.50,256.45 L120.00,256.45 L120.50,256.45 L121.00,256.45 L121.50,256.45 L122.00,256.45 L122.50,256.45 L123.00,256.45 L123.50,256.45 L124.00,256.45 L124.50,256.45 L125.00,256.45 L125.50,256.45 L126.00,256.45 L126.50,256.45 L127.00,256.45 L127.50,256.45 L128.00,256.45 L128.50,256.45 L129.00,256.45 L129.50,256.45 L130.00,256.45 L130.50,256.45 L131.00,256.45 L131.50,256.45 L132.00,256.45 L132.50,256.45 L133.00,256.45 L133.50,256.45 L134.00,256.45 L134.50,256.45 L135.00,256.45 L135.50,256.45 L136.00,256.45 L136.50,256.45 L137.00,256.45 L137.50,256.45 L138.00,256.45 L138.50,256.45 L139.00,256.45 L139.50,256.45 L140.00,256.45 L140.50,256.45 L141.00,256.45 L141.50,256.45 L142.00,256.45 L142.50,256.45 L143.00,256.45 L143.50,256.45 L144.00,256.45 L144.50,256.45 L145.00,256.45 L145.50,256.45 L146.00,256.45 L146.50,256.45 L147.00,256.45 L147.50,256.45 L148.00,256.45 L148.50,256.45 L149.00,256.45 L149.50,256.45 L150.00,256.45 L150.50,256.45 L151.00,256.45 L151.50,256.45 L152.00,256.45 L152.50,256.45 L153.00,256.45 L153.50,256.45 L154.00,256.45 L154.50,256.45 L155.00,256.45 L155.50,256.45 L156.00,256.45 L156.50,256.45 L157.00,256.45 L157.50,256.45 L158.00,256.45 L158.50,256.45 L159.00,256.45 L159.50,256.45 L160.00,256.45 L160.50,256.45 L161.00,256.45 L161.50,256.45 L162.00,256.45 L162.50,256.45 L163.00,256.45 L163.50,256.45 L164.00,256.45 L164.50,256.45 L165.00,256.45 L165.50,256.45 L166.00,256.45 L166.50,256.45 L167.00,256.45 L167.50,256.45 L168.00,256.45 L168.50,256.45 L169.00,256.45 L169.50,256.45 L170.00,256.45 L170.50,256.45 L171.00,256.45 L171.50,256.45 L172.00,256.45 L172.50,256.45 L173.00,256.45 L173.50,256.45 L174.00,256.45 L174.50,256.45 L175.00,256.45 L175.50,256.45 L176.00,256.45 L176.50,256.45 L177.00,256.45 L177.50,256.45 L178.00,256.45 L178.50,256.45 L179.00,256.45 L179.50,256.45 L180.00,256.45 L180.50,256.45 L181.00,256.45 L181.50,256.45 L182.00,256.45 L182.50,256.45 L183.00,256.45 L183.50,256.45 L184.00,256.45 L184.50,256.45 L185.00,256.44 L185.50,256.44 L186.00,256.44 L186.50,256.44 L187.00,256.44 L187.50,256.44 L188.00,256.44 L188.50,256.44 L189.00,256.43 L189.50,256.43 L190.00,256.43 L190.50,256.42 L191.00,256.42 L191.50,256.42 L192.00,256.41 L192.50,256.41 L193.00,256.40 L193.50,256.39 L194.00,256.39 L194.50,256.38 L195.00,256.37 L195.50,256.36 L196.00,256.35 L196.50,256.34 L197.00,256.32 L197.50,256.31 L198.00,256.29 L198.50,256.27 L199.00,256.25 L199.50,256.23 L200.00,256.20 L200.50,256.17 L201.00,256.14 L201.50,256.11 L202.00,256.08 L202.50,256.04 L203.00,255.99 L203.50,255.95 L204.00,255.90 L204.50,255.85 L205.00,255.79 L205.50,255.73 L206.00,255.66 L206.50,255.59 L207.00,255.51 L207.50,255.43 L208.00,255.34 L208.50,255.25 L209.00,255.15 L209.50,255.04 L210.00,254.93 L210.50,254.81 L211.00,254.68 L211.50,254.55 L212.00,254.41 L212.50,254.27 L213.00,254.11 L213.50,253.95 L214.00,253.79 L214.50,253.61 L215.00,253.43 L215.50,253.25 L216.00,253.05 L216.50,252.85 L217.00,252.64 L217.50,252.43 L218.00,252.21 L218.50,251.99 L219.00,251.76 L219.50,251.53 L220.00,251.29 L220.50,251.05 L221.00,250.81 L221.50,250.57 L222.00,250.32 L222.50,250.07 L223.00,249.83 L223.50,249.58 L224.00,249.33 L224.50,249.09 L225.00,248.85 L225.50,248.61 L226.00,248.38 L226.50,248.16 L227.00,247.93 L227.50,247.72 L228.00,247.52 L228.50,247.32 L229.00,247.13 L229.50,246.96 L230.00,246.79 L230.50,246.64 L231.00,246.49 L231.50,246.36 L232.00,246.25 L232.50,246.15 L233.00,246.06 L233.50,245.99 L234.00,245.93 L234.50,245.89 L235.00,245.86 L235.50,245.85 L236.00,245.86 L236.50,245.88 L237.00,245.91 L237.50,245.96 L238.00,246.03 L238.50,246.11 L239.00,246.21 L239.50,246.32 L240.00,246.44 L240.50,246.58 L241.00,246.73 L241.50,246.89 L242.00,247.06 L242.50,247.24 L243.00,247.44 L243.50,247.64 L244.00,247.85 L244.50,248.07 L245.00,248.29 L245.50,248.52 L246.00,248.75 L246.50,248.99 L247.00,249.24 L247.50,249.48 L248.00,249.73 L248.50,249.97 L249.00,250.22 L249.50,250.47 L250.00,250.71 L250.50,250.96 L251.00,251.20 L251.50,251.44 L252.00,251.67 L252.50,251.90 L253.00,252.13 L253.50,252.35 L254.00,252.56 L254.50,252.77 L255.00,252.97 L255.50,253.17 L256.00,253.36 L256.50,253.54 L257.00,253.72 L257.50,253.89 L258.00,254.05 L258.50,254.21 L259.00,254.36 L259.50,254.50 L260.00,254.63 L260.50,254.76 L261.00,254.88 L261.50,255.00 L262.00,255.10 L262.50,255.21 L263.00,255.30 L263.50,255.39 L264.00,255.48 L264.50,255.56 L265.00,255.63 L265.50,255.70 L266.00,255.76 L266.50,255.82 L267.00,255.88 L267.50,255.93 L268.00,255.98 L268.50,256.02 L269.00,256.06 L269.50,256.10 L270.00,256.13 L270.50,256.16 L271.00,256.19 L271.50,256.22 L272.00,256.24 L272.50,256.26 L273.00,256.28 L273.50,256.30 L274.00,256.32 L274.50,256.33 L275.00,256.34 L275.50,256.35 L276.00,256.37 L276.50,256.38 L277.00,256.38 L277.50,256.39 L278.00,256.40 L278.50,256.40 L279.00,256.41 L279.50,256.41 L280.00,256.42 L280.50,256.42 L281.00,256.43 L281.50,256.43 L282.00,256.43 L282.50,256.43 L283.00,256.44 L283.50,256.44 L284.00,256.44 L284.50,256.44 L285.00,256.44 L285.50,256.44 L286.00,256.44 L286.50,256.45 L287.00,256.45 L287.50,256.45 L288.00,256.45 L288.50,256.45 L289.00,256.45 L289.50,256.45 L290.00,256.45 L290.50,256.45 L291.00,256.45 L291.50,256.45 L292.00,256.45 L292.50,256.45 L293.00,256.45 L293.50,256.45 L294.00,256.45 L294.50,256.45 L295.00,256.45 L295.50,256.45 L296.00,256.45 L296.50,256.45 L297.00,256.45 L297.50,256.45 L298.00,256.45 L298.50,256.45 L299.00,256.45 L299.50,256.45 L300.00,256.45 L300.50,256.45 L301.00,256.45 L301.50,256.45 L302.00,256.45 L302.50,256.45 L303.00,256.45 L303.50,256.45 L304.00,256.45 L304.50,256.45 L305.00,256.45 L305.50,256.45 L306.00,256.45 L306.50,256.45 L307.00,256.45 L307.50,256.45 L308.00,256.45 L308.50,256.45 L309.00,256.45 L309.50,256.45 L310.00,256.45 L310.50,256.45 L311.00,256.45 L311.50,256.45 L312.00,256.45 L312.50,256.45 L313.00,256.45 L313.50,256.45 L314.00,256.45 L314.50,256.45 L315.00,256.45 L315.50,256.45 L316.00,256.45 L316.50,256.45 L317.00,256.45 L317.50,256.45 L318.00,256.45 L318.50,256.45 L319.00,256.45 L319.50,256.45 L320.00,256.45 L320.50,256.45 L321.00,256.45 L321.50,256.45 L322.00,256.45 L322.50,256.45 L323.00,256.45 L323.50,256.45 L324.00,256.45 L324.50,256.45 L325.00,256.45 L325.50,256.45 L326.00,256.45 L326.50,256.45 L327.00,256.45 L327.50,256.45 L328.00,256.45 L328.50,256.45 L329.00,256.45 L329.50,256.45 L330.00,256.45 L330.50,256.45 L331.00,256.45 L331.50,256.45 L332.00,256.45 L332.50,256.45 L333.00,256.45 L333.50,256.45 L334.00,256.45 L334.50,256.45 L335.00,256.45 L335.50,256.45 L336.00,256.45 L336.50,256.45 L337.00,256.45 L337.50,256.45 L338.00,256.45 L338.50,256.45 L339.00,256.45 L339.50,256.45 L340.00,256.45 L340.50,256.45 L341.00,256.45 L341.50,256.45 L342.00,256.45 L342.50,256.45 L343.00,256.45 L343.50,256.45 L344.00,256.45 L344.50,256.45 L345.00,256.45 L345.50,256.45 L346.00,256.45 L346.50,256.45 L347.00,256.45 L347.50,256.45 L348.00,256.45 L348.50,256.45 L349.00,256.45 L349.50,256.45 L350.00,256.45 L350.50,256.45 L351.00,256.45 L351.50,256.45 L352.00,256.45 L352.50,256.45 L353.00,256.45 L353.50,256.45 L354.00,256.45 L354.50,256.45 L355.00,256.45 L355.50,256.45 L356.00,256.45 L356.50,256.45 L357.00,256.45 L357.50,256.45 L358.00,256.45 L358.50,256.45 L359.00,256.45 L359.50,256.45 L360.00,256.45 L360.50,256.45 L361.00,256.45 L361.50,256.45 L362.00,256.45 L362.50,256.45 L363.00,256.45 L363.50,256.45 L364.00,256.45 L364.50,256.45 L365.00,256.45 L365.50,256.45 L366.00,256.45 L366.50,256.45 L367.00,256.45 L367.50,256.45 L368.00,256.45" fill="none" stroke="#000080" stroke-width="1.7"/>
<line x1="46.00" y1="256.45" x2="202.50" y2="256.45" stroke="#000080" stroke-width="2.0"/>
<line x1="269.00" y1="256.45" x2="368.00" y2="256.45" stroke="#000080" stroke-width="2.0"/>
</g>
<rect x="46" y="25.3" width="322" height="235.55" fill="none" stroke="#000" stroke-width="2"/>
<line x1="46" y1="71.4" x2="52" y2="71.4" stroke="#000" stroke-width="2"/>
<line x1="46" y1="117.8" x2="52" y2="117.8" stroke="#000" stroke-width="2"/>
<line x1="46" y1="163.9" x2="52" y2="163.9" stroke="#000" stroke-width="2"/>
<line x1="46" y1="210.3" x2="52" y2="210.3" stroke="#000" stroke-width="2"/>
<line x1="153.33" y1="260.85" x2="153.33" y2="255.85000000000002" stroke="#000" stroke-width="2"/>
<line x1="260.67" y1="260.85" x2="260.67" y2="255.85000000000002" stroke="#000" stroke-width="2"/>
<clipPath id="clipb"><rect x="49" y="335.2" width="320.2" height="233.59999999999997"/></clipPath>
<g clip-path="url(#clipb)">
<path d="M48.00,566.98 L50.50,566.86 L53.00,567.21 L55.50,566.80 L58.00,567.13 L60.50,567.01 L63.00,566.79 L65.50,567.11 L68.00,566.78 L70.50,567.05 L73.00,566.80 L75.50,566.81 L78.00,567.05 L80.50,567.33 L83.00,566.84 L85.00,566.60 L87.60,566.00 L90.10,564.40 L92.50,564.90 L95.30,564.70 L97.50,564.20 L99.80,563.70 L103.00,564.10 L105.60,563.40 L107.20,562.50 L108.80,561.50 L110.70,563.70 L112.50,562.50 L114.60,560.80 L116.30,558.50 L117.80,556.30 L119.70,554.40 L121.60,553.80 L123.60,548.60 L126.10,542.90 L128.10,535.10 L129.30,530.00 L129.28,527.00 L129.65,524.00 L130.01,521.00 L130.36,518.00 L130.69,515.00 L131.01,512.00 L131.32,509.00 L131.67,506.00 L132.03,503.00 L132.37,500.00 L132.71,497.00 L133.05,494.00 L133.38,491.00 L133.71,488.00 L134.03,485.00 L134.35,482.00 L134.67,479.00 L134.99,476.00 L135.30,473.00 L135.62,470.00 L135.91,467.00 L136.16,464.00 L136.42,461.00 L136.67,458.00 L136.93,455.00 L137.19,452.00 L137.46,449.00 L137.72,446.00 L137.99,443.00 L138.27,440.00 L138.55,437.00 L138.84,434.00 L139.14,431.00 L139.46,428.00 L139.78,425.00 L140.13,422.00 L140.50,419.00 L140.90,416.00 L141.35,413.00 L141.87,410.00 L143.00,399.20 L144.10,398.90 L145.40,399.30 L146.40,401.50 L147.50,406.20 L149.50,420.00 L152.00,440.00 L153.70,457.00 L155.30,473.70 L157.30,490.00 L159.60,502.30 L161.50,508.20 L163.30,510.00 L165.80,516.60 L168.20,520.70 L170.70,526.50 L173.60,531.00 L176.50,533.90 L178.90,533.40 L181.00,535.50 L183.00,540.40 L184.70,542.90 L186.30,540.00 L188.40,541.70 L190.00,544.60 L192.00,546.20 L194.10,546.30 L198.20,547.30 L201.30,550.40 L205.40,548.30 L209.00,550.40 L212.60,552.50 L216.70,552.50 L219.80,553.50 L223.90,554.50 L226.50,555.00 L227.60,556.80 L229.00,553.20 L231.60,555.20 L233.00,554.30 L235.80,555.80 L240.50,556.30 L245.10,556.60 L249.70,557.40 L252.00,558.90 L254.40,556.60 L257.70,558.90 L262.10,558.90 L264.00,558.90 L266.20,558.10 L268.50,558.00 L270.70,558.40 L273.90,556.60 L276.10,558.90 L279.30,558.00 L282.90,559.30 L286.50,558.40 L290.00,558.90 L292.40,560.40 L297.00,560.40 L301.60,560.90 L305.50,559.70 L307.80,561.20 L310.90,559.20 L312.40,562.00 L317.10,561.20 L319.40,562.30 L322.30,563.80 L326.70,563.30 L331.10,563.80 L336.00,563.20 L340.60,562.90 L344.30,563.80 L351.60,564.00 L355.00,564.50 L357.50,566.20 L359.50,564.50 L361.90,563.80 L367.70,564.00 L370.00,564.00" fill="none" stroke="#000" stroke-width="1.8" stroke-linejoin="round"/>
<path d="M48.00,565.28 L48.50,565.28 L49.00,565.28 L49.50,565.28 L50.00,565.28 L50.50,565.28 L51.00,565.28 L51.50,565.28 L52.00,565.28 L52.50,565.27 L53.00,565.27 L53.50,565.27 L54.00,565.27 L54.50,565.27 L55.00,565.27 L55.50,565.27 L56.00,565.27 L56.50,565.27 L57.00,565.27 L57.50,565.27 L58.00,565.27 L58.50,565.27 L59.00,565.27 L59.50,565.27 L60.00,565.27 L60.50,565.27 L61.00,565.27 L61.50,565.27 L62.00,565.27 L62.50,565.27 L63.00,565.27 L63.50,565.27 L64.00,565.27 L64.50,565.27 L65.00,565.27 L65.50,565.27 L66.00,565.27 L66.50,565.27 L67.00,565.27 L67.50,565.27 L68.00,565.27 L68.50,565.27 L69.00,565.27 L69.50,565.27 L70.00,565.27 L70.50,565.27 L71.00,565.27 L71.50,565.27 L72.00,565.27 L72.50,565.27 L73.00,565.27 L73.50,565.27 L74.00,565.27 L74.50,565.27 L75.00,565.27 L75.50,565.27 L76.00,565.27 L76.50,565.27 L77.00,565.27 L77.50,565.27 L78.00,565.27 L78.50,565.27 L79.00,565.27 L79.50,565.26 L80.00,565.26 L80.50,565.26 L81.00,565.26 L81.50,565.26 L82.00,565.26 L82.50,565.26 L83.00,565.26 L83.50,565.26 L84.00,565.26 L84.50,565.26 L85.00,565.26 L85.50,565.26 L86.00,565.26 L86.50,565.26 L87.00,565.26 L87.50,565.26 L88.00,565.26 L88.50,565.26 L89.00,565.26 L89.50,565.26 L90.00,565.26 L90.50,565.26 L91.00,565.26 L91.50,565.26 L92.00,565.26 L92.50,565.26 L93.00,565.26 L93.50,565.26 L94.00,565.26 L94.50,565.26 L95.00,565.26 L95.50,565.26 L96.00,565.26 L96.50,565.25 L97.00,565.25 L97.50,565.25 L98.00,565.25 L98.50,565.25 L99.00,565.25 L99.50,565.25 L100.00,565.25 L100.50,565.25 L101.00,565.25 L101.50,565.25 L102.00,565.25 L102.50,565.25 L103.00,565.25 L103.50,565.25 L104.00,565.25 L104.50,565.25 L105.00,565.25 L105.50,565.24 L106.00,565.24 L106.50,565.24 L107.00,565.24 L107.50,565.24 L108.00,565.23 L108.50,565.23 L109.00,565.23 L109.50,565.22 L110.00,565.21 L110.50,565.20 L111.00,565.19 L111.50,565.18 L112.00,565.16 L112.50,565.14 L113.00,565.11 L113.50,565.08 L114.00,565.04 L114.50,564.99 L115.00,564.93 L115.50,564.86 L116.00,564.77 L116.50,564.66 L117.00,564.53 L117.50,564.38 L118.00,564.20 L118.50,563.98 L119.00,563.73 L119.50,563.42 L120.00,563.07 L120.50,562.66 L121.00,562.18 L121.50,561.62 L122.00,560.98 L122.50,560.24 L123.00,559.39 L123.50,558.42 L124.00,557.33 L124.50,556.08 L125.00,554.69 L125.50,553.12 L126.00,551.37 L126.50,549.42 L127.00,547.26 L127.50,544.89 L128.00,542.28 L128.50,539.43 L129.00,536.33 L129.50,532.98 L130.00,529.36 L130.50,525.49 L131.00,521.35 L131.50,516.96 L132.00,512.31 L132.50,507.43 L133.00,502.32 L133.50,497.01 L134.00,491.51 L134.50,485.85 L135.00,480.06 L135.50,474.18 L136.00,468.24 L136.50,462.27 L137.00,456.33 L137.50,450.45 L138.00,444.69 L138.50,439.08 L139.00,433.67 L139.50,428.51 L140.00,423.65 L140.50,419.12 L141.00,414.98 L141.50,411.25 L142.00,407.97 L142.50,405.17 L143.00,402.87 L143.50,401.10 L144.00,399.85 L144.50,399.15 L145.00,398.99 L145.50,399.37 L146.00,400.27 L146.50,401.67 L147.00,403.56 L147.50,405.91 L148.00,408.68 L148.50,411.83 L149.00,415.33 L149.50,419.13 L150.00,423.19 L150.50,427.46 L151.00,431.90 L151.50,436.45 L152.00,441.08 L152.50,445.74 L153.00,450.39 L153.50,454.99 L154.00,459.51 L154.50,463.91 L155.00,468.17 L155.50,472.26 L156.00,476.16 L156.50,479.87 L157.00,483.36 L157.50,486.63 L158.00,489.68 L158.50,492.51 L159.00,495.13 L159.50,497.53 L160.00,499.73 L160.50,501.74 L161.00,503.57 L161.50,505.24 L162.00,506.76 L162.50,508.16 L163.00,509.44 L163.50,510.62 L164.00,511.72 L164.50,512.76 L165.00,513.74 L165.50,514.69 L166.00,515.61 L166.50,516.51 L167.00,517.42 L167.50,518.32 L168.00,519.23 L168.50,520.16 L169.00,521.11 L169.50,522.08 L170.00,523.06 L170.50,524.07 L171.00,525.10 L171.50,526.14 L172.00,527.20 L172.50,528.26 L173.00,529.33 L173.50,530.40 L174.00,531.46 L174.50,532.51 L175.00,533.54 L175.50,534.55 L176.00,535.53 L176.50,536.48 L177.00,537.39 L177.50,538.26 L178.00,539.08 L178.50,539.85 L179.00,540.57 L179.50,541.24 L180.00,541.85 L180.50,542.41 L181.00,542.91 L181.50,543.35 L182.00,543.74 L182.50,544.08 L183.00,544.36 L183.50,544.60 L184.00,544.80 L184.50,544.95 L185.00,545.06 L185.50,545.14 L186.00,545.20 L186.50,545.23 L187.00,545.23 L187.50,545.23 L188.00,545.21 L188.50,545.18 L189.00,545.15 L189.50,545.13 L190.00,545.11 L190.50,545.09 L191.00,545.09 L191.50,545.10 L192.00,545.13 L192.50,545.18 L193.00,545.24 L193.50,545.33 L194.00,545.44 L194.50,545.57 L195.00,545.73 L195.50,545.90 L196.00,546.10 L196.50,546.31 L197.00,546.55 L197.50,546.80 L198.00,547.07 L198.50,547.35 L199.00,547.64 L199.50,547.94 L200.00,548.25 L200.50,548.56 L201.00,548.87 L201.50,549.18 L202.00,549.49 L202.50,549.79 L203.00,550.09 L203.50,550.38 L204.00,550.65 L204.50,550.92 L205.00,551.17 L205.50,551.40 L206.00,551.62 L206.50,551.83 L207.00,552.02 L207.50,552.19 L208.00,552.34 L208.50,552.48 L209.00,552.60 L209.50,552.71 L210.00,552.81 L210.50,552.89 L211.00,552.96 L211.50,553.03 L212.00,553.08 L212.50,553.13 L213.00,553.18 L213.50,553.22 L214.00,553.26 L214.50,553.31 L215.00,553.35 L215.50,553.40 L216.00,553.45 L216.50,553.51 L217.00,553.58 L217.50,553.65 L218.00,553.74 L218.50,553.83 L219.00,553.92 L219.50,554.02 L220.00,554.13 L220.50,554.25 L221.00,554.37 L221.50,554.49 L222.00,554.61 L222.50,554.74 L223.00,554.86 L223.50,554.98 L224.00,555.10 L224.50,555.22 L225.00,555.33 L225.50,555.43 L226.00,555.53 L226.50,555.62 L227.00,555.70 L227.50,555.77 L228.00,555.83 L228.50,555.87 L229.00,555.91 L229.50,555.94 L230.00,555.95 L230.50,555.96 L231.00,555.95 L231.50,555.94 L232.00,555.91 L232.50,555.88 L233.00,555.84 L233.50,555.79 L234.00,555.74 L234.50,555.68 L235.00,555.62 L235.50,555.56 L236.00,555.50 L236.50,555.44 L237.00,555.39 L237.50,555.34 L238.00,555.30 L238.50,555.27 L239.00,555.25 L239.50,555.24 L240.00,555.25 L240.50,555.28 L241.00,555.32 L241.50,555.38 L242.00,555.46 L242.50,555.56 L243.00,555.67 L243.50,555.81 L244.00,555.96 L244.50,556.13 L245.00,556.32 L245.50,556.52 L246.00,556.73 L246.50,556.96 L247.00,557.20 L247.50,557.45 L248.00,557.70 L248.50,557.96 L249.00,558.23 L249.50,558.50 L250.00,558.77 L250.50,559.05 L251.00,559.32 L251.50,559.59 L252.00,559.86 L252.50,560.13 L253.00,560.39 L253.50,560.64 L254.00,560.89 L254.50,561.13 L255.00,561.37 L255.50,561.60 L256.00,561.81 L256.50,562.02 L257.00,562.23 L257.50,562.42 L258.00,562.60 L258.50,562.77 L259.00,562.94 L259.50,563.09 L260.00,563.24 L260.50,563.38 L261.00,563.51 L261.50,563.63 L262.00,563.74 L262.50,563.85 L263.00,563.94 L263.50,564.03 L264.00,564.12 L264.50,564.19 L265.00,564.27 L265.50,564.33 L266.00,564.39 L266.50,564.45 L267.00,564.50 L267.50,564.54 L268.00,564.59 L268.50,564.63 L269.00,564.66 L269.50,564.69 L270.00,564.72 L270.50,564.75 L271.00,564.78 L271.50,564.80 L272.00,564.82 L272.50,564.84 L273.00,564.86 L273.50,564.87 L274.00,564.89 L274.50,564.90 L275.00,564.92 L275.50,564.93 L276.00,564.94 L276.50,564.95 L277.00,564.96 L277.50,564.97 L278.00,564.98 L278.50,564.98 L279.00,564.99 L279.50,565.00 L280.00,565.01 L280.50,565.01 L281.00,565.02 L281.50,565.02 L282.00,565.03 L282.50,565.04 L283.00,565.04 L283.50,565.05 L284.00,565.05 L284.50,565.06 L285.00,565.06 L285.50,565.07 L286.00,565.07 L286.50,565.07 L287.00,565.08 L287.50,565.08 L288.00,565.09 L288.50,565.09 L289.00,565.09 L289.50,565.10 L290.00,565.10 L290.50,565.10 L291.00,565.11 L291.50,565.11 L292.00,565.11 L292.50,565.12 L293.00,565.12 L293.50,565.12 L294.00,565.12 L294.50,565.13 L295.00,565.13 L295.50,565.13 L296.00,565.14 L296.50,565.14 L297.00,565.14 L297.50,565.14 L298.00,565.14 L298.50,565.15 L299.00,565.15 L299.50,565.15 L300.00,565.15 L300.50,565.16 L301.00,565.16 L301.50,565.16 L302.00,565.16 L302.50,565.16 L303.00,565.17 L303.50,565.17 L304.00,565.17 L304.50,565.17 L305.00,565.17 L305.50,565.17 L306.00,565.18 L306.50,565.18 L307.00,565.18 L307.50,565.18 L308.00,565.18 L308.50,565.18 L309.00,565.19 L309.50,565.19 L310.00,565.19 L310.50,565.19 L311.00,565.19 L311.50,565.19 L312.00,565.19 L312.50,565.19 L313.00,565.20 L313.50,565.20 L314.00,565.20 L314.50,565.20 L315.00,565.20 L315.50,565.20 L316.00,565.20 L316.50,565.20 L317.00,565.21 L317.50,565.21 L318.00,565.21 L318.50,565.21 L319.00,565.21 L319.50,565.21 L320.00,565.21 L320.50,565.21 L321.00,565.21 L321.50,565.21 L322.00,565.22 L322.50,565.22 L323.00,565.22 L323.50,565.22 L324.00,565.22 L324.50,565.22 L325.00,565.22 L325.50,565.22 L326.00,565.22 L326.50,565.22 L327.00,565.22 L327.50,565.22 L328.00,565.23 L328.50,565.23 L329.00,565.23 L329.50,565.23 L330.00,565.23 L330.50,565.23 L331.00,565.23 L331.50,565.23 L332.00,565.23 L332.50,565.23 L333.00,565.23 L333.50,565.23 L334.00,565.23 L334.50,565.23 L335.00,565.23 L335.50,565.24 L336.00,565.24 L336.50,565.24 L337.00,565.24 L337.50,565.24 L338.00,565.24 L338.50,565.24 L339.00,565.24 L339.50,565.24 L340.00,565.24 L340.50,565.24 L341.00,565.24 L341.50,565.24 L342.00,565.24 L342.50,565.24 L343.00,565.24 L343.50,565.24 L344.00,565.24 L344.50,565.25 L345.00,565.25 L345.50,565.25 L346.00,565.25 L346.50,565.25 L347.00,565.25 L347.50,565.25 L348.00,565.25 L348.50,565.25 L349.00,565.25 L349.50,565.25 L350.00,565.25 L350.50,565.25 L351.00,565.25 L351.50,565.25 L352.00,565.25 L352.50,565.25 L353.00,565.25 L353.50,565.25 L354.00,565.25 L354.50,565.25 L355.00,565.25 L355.50,565.25 L356.00,565.25 L356.50,565.25 L357.00,565.26 L357.50,565.26 L358.00,565.26 L358.50,565.26 L359.00,565.26 L359.50,565.26 L360.00,565.26 L360.50,565.26 L361.00,565.26 L361.50,565.26 L362.00,565.26 L362.50,565.26 L363.00,565.26 L363.50,565.26 L364.00,565.26 L364.50,565.26 L365.00,565.26 L365.50,565.26 L366.00,565.26 L366.50,565.26 L367.00,565.26 L367.50,565.26 L368.00,565.26 L368.50,565.26 L369.00,565.26 L369.50,565.26 L370.00,565.26" fill="none" stroke="#ff0000" stroke-width="1.6" stroke-dasharray="6,5"/>
<path d="M48.00,565.30 L48.50,565.30 L49.00,565.30 L49.50,565.30 L50.00,565.30 L50.50,565.30 L51.00,565.30 L51.50,565.30 L52.00,565.30 L52.50,565.30 L53.00,565.30 L53.50,565.30 L54.00,565.30 L54.50,565.30 L55.00,565.30 L55.50,565.30 L56.00,565.30 L56.50,565.30 L57.00,565.30 L57.50,565.30 L58.00,565.30 L58.50,565.30 L59.00,565.30 L59.50,565.30 L60.00,565.30 L60.50,565.30 L61.00,565.30 L61.50,565.30 L62.00,565.30 L62.50,565.30 L63.00,565.30 L63.50,565.30 L64.00,565.30 L64.50,565.30 L65.00,565.30 L65.50,565.30 L66.00,565.30 L66.50,565.30 L67.00,565.30 L67.50,565.30 L68.00,565.30 L68.50,565.30 L69.00,565.30 L69.50,565.30 L70.00,565.30 L70.50,565.30 L71.00,565.30 L71.50,565.30 L72.00,565.30 L72.50,565.30 L73.00,565.30 L73.50,565.30 L74.00,565.30 L74.50,565.30 L75.00,565.30 L75.50,565.30 L76.00,565.30 L76.50,565.30 L77.00,565.30 L77.50,565.30 L78.00,565.30 L78.50,565.30 L79.00,565.30 L79.50,565.30 L80.00,565.30 L80.50,565.30 L81.00,565.30 L81.50,565.30 L82.00,565.30 L82.50,565.30 L83.00,565.30 L83.50,565.30 L84.00,565.30 L84.50,565.30 L85.00,565.30 L85.50,565.30 L86.00,565.30 L86.50,565.30 L87.00,565.30 L87.50,565.30 L88.00,565.30 L88.50,565.30 L89.00,565.30 L89.50,565.30 L90.00,565.30 L90.50,565.30 L91.00,565.30 L91.50,565.30 L92.00,565.30 L92.50,565.30 L93.00,565.30 L93.50,565.30 L94.00,565.30 L94.50,565.30 L95.00,565.30 L95.50,565.30 L96.00,565.30 L96.50,565.30 L97.00,565.30 L97.50,565.30 L98.00,565.30 L98.50,565.30 L99.00,565.30 L99.50,565.30 L100.00,565.30 L100.50,565.30 L101.00,565.30 L101.50,565.30 L102.00,565.30 L102.50,565.30 L103.00,565.30 L103.50,565.30 L104.00,565.30 L104.50,565.30 L105.00,565.30 L105.50,565.30 L106.00,565.30 L106.50,565.30 L107.00,565.29 L107.50,565.29 L108.00,565.29 L108.50,565.29 L109.00,565.28 L109.50,565.28 L110.00,565.27 L110.50,565.26 L111.00,565.25 L111.50,565.24 L112.00,565.22 L112.50,565.20 L113.00,565.17 L113.50,565.14 L114.00,565.10 L114.50,565.05 L115.00,564.99 L115.50,564.92 L116.00,564.83 L116.50,564.73 L117.00,564.60 L117.50,564.45 L118.00,564.26 L118.50,564.05 L119.00,563.79 L119.50,563.49 L120.00,563.14 L120.50,562.73 L121.00,562.25 L121.50,561.69 L122.00,561.05 L122.50,560.31 L123.00,559.47 L123.50,558.50 L124.00,557.41 L124.50,556.17 L125.00,554.77 L125.50,553.21 L126.00,551.46 L126.50,549.51 L127.00,547.36 L127.50,544.99 L128.00,542.39 L128.50,539.55 L129.00,536.46 L129.50,533.12 L130.00,529.52 L130.50,525.65 L131.00,521.53 L131.50,517.16 L132.00,512.54 L132.50,507.68 L133.00,502.60 L133.50,497.33 L134.00,491.87 L134.50,486.26 L135.00,480.53 L135.50,474.71 L136.00,468.84 L136.50,462.95 L137.00,457.11 L137.50,451.33 L138.00,445.69 L138.50,440.21 L139.00,434.96 L139.50,429.98 L140.00,425.31 L140.50,421.00 L141.00,417.09 L141.50,413.63 L142.00,410.65 L142.50,408.17 L143.00,406.23 L143.50,404.85 L144.00,404.04 L144.50,403.80 L145.00,404.15 L145.50,405.08 L146.00,406.58 L146.50,408.62 L147.00,411.20 L147.50,414.29 L148.00,417.84 L148.50,421.83 L149.00,426.21 L149.50,430.95 L150.00,435.99 L150.50,441.29 L151.00,446.81 L151.50,452.48 L152.00,458.27 L152.50,464.13 L153.00,470.01 L153.50,475.88 L154.00,481.68 L154.50,487.39 L155.00,492.97 L155.50,498.40 L156.00,503.64 L156.50,508.67 L157.00,513.48 L157.50,518.05 L158.00,522.38 L158.50,526.45 L159.00,530.26 L159.50,533.81 L160.00,537.10 L160.50,540.14 L161.00,542.93 L161.50,545.49 L162.00,547.81 L162.50,549.92 L163.00,551.82 L163.50,553.53 L164.00,555.06 L164.50,556.43 L165.00,557.64 L165.50,558.70 L166.00,559.64 L166.50,560.47 L167.00,561.19 L167.50,561.81 L168.00,562.35 L168.50,562.82 L169.00,563.22 L169.50,563.56 L170.00,563.85 L170.50,564.09 L171.00,564.30 L171.50,564.48 L172.00,564.63 L172.50,564.75 L173.00,564.85 L173.50,564.93 L174.00,565.00 L174.50,565.06 L175.00,565.11 L175.50,565.15 L176.00,565.18 L176.50,565.20 L177.00,565.22 L177.50,565.24 L178.00,565.25 L178.50,565.26 L179.00,565.27 L179.50,565.28 L180.00,565.28 L180.50,565.29 L181.00,565.29 L181.50,565.29 L182.00,565.29 L182.50,565.30 L183.00,565.30 L183.50,565.30 L184.00,565.30 L184.50,565.30 L185.00,565.30 L185.50,565.30 L186.00,565.30 L186.50,565.30 L187.00,565.30 L187.50,565.30 L188.00,565.30 L188.50,565.30 L189.00,565.30 L189.50,565.30 L190.00,565.30 L190.50,565.30 L191.00,565.30 L191.50,565.30 L192.00,565.30 L192.50,565.30 L193.00,565.30 L193.50,565.30 L194.00,565.30 L194.50,565.30 L195.00,565.30 L195.50,565.30 L196.00,565.30 L196.50,565.30 L197.00,565.30 L197.50,565.30 L198.00,565.30 L198.50,565.30 L199.00,565.30 L199.50,565.30 L200.00,565.30 L200.50,565.30 L201.00,565.30 L201.50,565.30 L202.00,565.30 L202.50,565.30 L203.00,565.30 L203.50,565.30 L204.00,565.30 L204.50,565.30 L205.00,565.30 L205.50,565.30 L206.00,565.30 L206.50,565.30 L207.00,565.30 L207.50,565.30 L208.00,565.30 L208.50,565.30 L209.00,565.30 L209.50,565.30 L210.00,565.30 L210.50,565.30 L211.00,565.30 L211.50,565.30 L212.00,565.30 L212.50,565.30 L213.00,565.30 L213.50,565.30 L214.00,565.30 L214.50,565.30 L215.00,565.30 L215.50,565.30 L216.00,565.30 L216.50,565.30 L217.00,565.30 L217.50,565.30 L218.00,565.30 L218.50,565.30 L219.00,565.30 L219.50,565.30 L220.00,565.30 L220.50,565.30 L221.00,565.30 L221.50,565.30 L222.00,565.30 L222.50,565.30 L223.00,565.30 L223.50,565.30 L224.00,565.30 L224.50,565.30 L225.00,565.30 L225.50,565.30 L226.00,565.30 L226.50,565.30 L227.00,565.30 L227.50,565.30 L228.00,565.30 L228.50,565.30 L229.00,565.30 L229.50,565.30 L230.00,565.30 L230.50,565.30 L231.00,565.30 L231.50,565.30 L232.00,565.30 L232.50,565.30 L233.00,565.30 L233.50,565.30 L234.00,565.30 L234.50,565.30 L235.00,565.30 L235.50,565.30 L236.00,565.30 L236.50,565.30 L237.00,565.30 L237.50,565.30 L238.00,565.30 L238.50,565.30 L239.00,565.30 L239.50,565.30 L240.00,565.30 L240.50,565.30 L241.00,565.30 L241.50,565.30 L242.00,565.30 L242.50,565.30 L243.00,565.30 L243.50,565.30 L244.00,565.30 L244.50,565.30 L245.00,565.30 L245.50,565.30 L246.00,565.30 L246.50,565.30 L247.00,565.30 L247.50,565.30 L248.00,565.30 L248.50,565.30 L249.00,565.30 L249.50,565.30 L250.00,565.30 L250.50,565.30 L251.00,565.30 L251.50,565.30 L252.00,565.30 L252.50,565.30 L253.00,565.30 L253.50,565.30 L254.00,565.30 L254.50,565.30 L255.00,565.30 L255.50,565.30 L256.00,565.30 L256.50,565.30 L257.00,565.30 L257.50,565.30 L258.00,565.30 L258.50,565.30 L259.00,565.30 L259.50,565.30 L260.00,565.30 L260.50,565.30 L261.00,565.30 L261.50,565.30 L262.00,565.30 L262.50,565.30 L263.00,565.30 L263.50,565.30 L264.00,565.30 L264.50,565.30 L265.00,565.30 L265.50,565.30 L266.00,565.30 L266.50,565.30 L267.00,565.30 L267.50,565.30 L268.00,565.30 L268.50,565.30 L269.00,565.30 L269.50,565.30 L270.00,565.30 L270.50,565.30 L271.00,565.30 L271.50,565.30 L272.00,565.30 L272.50,565.30 L273.00,565.30 L273.50,565.30 L274.00,565.30 L274.50,565.30 L275.00,565.30 L275.50,565.30 L276.00,565.30 L276.50,565.30 L277.00,565.30 L277.50,565.30 L278.00,565.30 L278.50,565.30 L279.00,565.30 L279.50,565.30 L280.00,565.30 L280.50,565.30 L281.00,565.30 L281.50,565.30 L282.00,565.30 L282.50,565.30 L283.00,565.30 L283.50,565.30 L284.00,565.30 L284.50,565.30 L285.00,565.30 L285.50,565.30 L286.00,565.30 L286.50,565.30 L287.00,565.30 L287.50,565.30 L288.00,565.30 L288.50,565.30 L289.00,565.30 L289.50,565.30 L290.00,565.30 L290.50,565.30 L291.00,565.30 L291.50,565.30 L292.00,565.30 L292.50,565.30 L293.00,565.30 L293.50,565.30 L294.00,565.30 L294.50,565.30 L295.00,565.30 L295.50,565.30 L296.00,565.30 L296.50,565.30 L297.00,565.30 L297.50,565.30 L298.00,565.30 L298.50,565.30 L299.00,565.30 L299.50,565.30 L300.00,565.30 L300.50,565.30 L301.00,565.30 L301.50,565.30 L302.00,565.30 L302.50,565.30 L303.00,565.30 L303.50,565.30 L304.00,565.30 L304.50,565.30 L305.00,565.30 L305.50,565.30 L306.00,565.30 L306.50,565.30 L307.00,565.30 L307.50,565.30 L308.00,565.30 L308.50,565.30 L309.00,565.30 L309.50,565.30 L310.00,565.30 L310.50,565.30 L311.00,565.30 L311.50,565.30 L312.00,565.30 L312.50,565.30 L313.00,565.30 L313.50,565.30 L314.00,565.30 L314.50,565.30 L315.00,565.30 L315.50,565.30 L316.00,565.30 L316.50,565.30 L317.00,565.30 L317.50,565.30 L318.00,565.30 L318.50,565.30 L319.00,565.30 L319.50,565.30 L320.00,565.30 L320.50,565.30 L321.00,565.30 L321.50,565.30 L322.00,565.30 L322.50,565.30 L323.00,565.30 L323.50,565.30 L324.00,565.30 L324.50,565.30 L325.00,565.30 L325.50,565.30 L326.00,565.30 L326.50,565.30 L327.00,565.30 L327.50,565.30 L328.00,565.30 L328.50,565.30 L329.00,565.30 L329.50,565.30 L330.00,565.30 L330.50,565.30 L331.00,565.30 L331.50,565.30 L332.00,565.30 L332.50,565.30 L333.00,565.30 L333.50,565.30 L334.00,565.30 L334.50,565.30 L335.00,565.30 L335.50,565.30 L336.00,565.30 L336.50,565.30 L337.00,565.30 L337.50,565.30 L338.00,565.30 L338.50,565.30 L339.00,565.30 L339.50,565.30 L340.00,565.30 L340.50,565.30 L341.00,565.30 L341.50,565.30 L342.00,565.30 L342.50,565.30 L343.00,565.30 L343.50,565.30 L344.00,565.30 L344.50,565.30 L345.00,565.30 L345.50,565.30 L346.00,565.30 L346.50,565.30 L347.00,565.30 L347.50,565.30 L348.00,565.30 L348.50,565.30 L349.00,565.30 L349.50,565.30 L350.00,565.30 L350.50,565.30 L351.00,565.30 L351.50,565.30 L352.00,565.30 L352.50,565.30 L353.00,565.30 L353.50,565.30 L354.00,565.30 L354.50,565.30 L355.00,565.30 L355.50,565.30 L356.00,565.30 L356.50,565.30 L357.00,565.30 L357.50,565.30 L358.00,565.30 L358.50,565.30 L359.00,565.30 L359.50,565.30 L360.00,565.30 L360.50,565.30 L361.00,565.30 L361.50,565.30 L362.00,565.30 L362.50,565.30 L363.00,565.30 L363.50,565.30 L364.00,565.30 L364.50,565.30 L365.00,565.30 L365.50,565.30 L366.00,565.30 L366.50,565.30 L367.00,565.30 L367.50,565.30 L368.00,565.30 L368.50,565.30 L369.00,565.30 L369.50,565.30 L370.00,565.30" fill="none" stroke="#0000ff" stroke-width="1.7"/>
<path d="M48.00,565.30 L48.50,565.30 L49.00,565.30 L49.50,565.30 L50.00,565.30 L50.50,565.30 L51.00,565.30 L51.50,565.30 L52.00,565.30 L52.50,565.30 L53.00,565.30 L53.50,565.30 L54.00,565.30 L54.50,565.30 L55.00,565.30 L55.50,565.30 L56.00,565.30 L56.50,565.30 L57.00,565.30 L57.50,565.30 L58.00,565.30 L58.50,565.30 L59.00,565.30 L59.50,565.30 L60.00,565.30 L60.50,565.30 L61.00,565.30 L61.50,565.30 L62.00,565.30 L62.50,565.30 L63.00,565.30 L63.50,565.30 L64.00,565.30 L64.50,565.30 L65.00,565.30 L65.50,565.30 L66.00,565.30 L66.50,565.30 L67.00,565.30 L67.50,565.30 L68.00,565.30 L68.50,565.30 L69.00,565.30 L69.50,565.30 L70.00,565.30 L70.50,565.30 L71.00,565.30 L71.50,565.30 L72.00,565.30 L72.50,565.30 L73.00,565.30 L73.50,565.30 L74.00,565.30 L74.50,565.30 L75.00,565.30 L75.50,565.30 L76.00,565.30 L76.50,565.30 L77.00,565.30 L77.50,565.30 L78.00,565.30 L78.50,565.30 L79.00,565.30 L79.50,565.30 L80.00,565.30 L80.50,565.30 L81.00,565.30 L81.50,565.30 L82.00,565.30 L82.50,565.30 L83.00,565.30 L83.50,565.30 L84.00,565.30 L84.50,565.30 L85.00,565.30 L85.50,565.30 L86.00,565.30 L86.50,565.30 L87.00,565.30 L87.50,565.30 L88.00,565.30 L88.50,565.30 L89.00,565.30 L89.50,565.30 L90.00,565.30 L90.50,565.30 L91.00,565.30 L91.50,565.30 L92.00,565.30 L92.50,565.30 L93.00,565.30 L93.50,565.30 L94.00,565.30 L94.50,565.30 L95.00,565.30 L95.50,565.30 L96.00,565.30 L96.50,565.30 L97.00,565.30 L97.50,565.30 L98.00,565.30 L98.50,565.30 L99.00,565.30 L99.50,565.30 L100.00,565.30 L100.50,565.30 L101.00,565.30 L101.50,565.30 L102.00,565.30 L102.50,565.30 L103.00,565.30 L103.50,565.30 L104.00,565.30 L104.50,565.30 L105.00,565.30 L105.50,565.30 L106.00,565.30 L106.50,565.30 L107.00,565.30 L107.50,565.30 L108.00,565.30 L108.50,565.30 L109.00,565.30 L109.50,565.30 L110.00,565.30 L110.50,565.30 L111.00,565.30 L111.50,565.30 L112.00,565.30 L112.50,565.30 L113.00,565.30 L113.50,565.30 L114.00,565.30 L114.50,565.30 L115.00,565.30 L115.50,565.30 L116.00,565.30 L116.50,565.30 L117.00,565.30 L117.50,565.30 L118.00,565.30 L118.50,565.30 L119.00,565.30 L119.50,565.30 L120.00,565.30 L120.50,565.30 L121.00,565.30 L121.50,565.30 L122.00,565.30 L122.50,565.30 L123.00,565.30 L123.50,565.29 L124.00,565.29 L124.50,565.29 L125.00,565.29 L125.50,565.29 L126.00,565.29 L126.50,565.28 L127.00,565.28 L127.50,565.27 L128.00,565.27 L128.50,565.26 L129.00,565.25 L129.50,565.24 L130.00,565.23 L130.50,565.22 L131.00,565.20 L131.50,565.18 L132.00,565.16 L132.50,565.14 L133.00,565.11 L133.50,565.07 L134.00,565.03 L134.50,564.98 L135.00,564.93 L135.50,564.87 L136.00,564.80 L136.50,564.71 L137.00,564.62 L137.50,564.52 L138.00,564.40 L138.50,564.26 L139.00,564.11 L139.50,563.94 L140.00,563.74 L140.50,563.53 L141.00,563.29 L141.50,563.03 L142.00,562.73 L142.50,562.41 L143.00,562.05 L143.50,561.66 L144.00,561.23 L144.50,560.76 L145.00,560.26 L145.50,559.71 L146.00,559.11 L146.50,558.47 L147.00,557.78 L147.50,557.05 L148.00,556.26 L148.50,555.43 L149.00,554.55 L149.50,553.61 L150.00,552.63 L150.50,551.60 L151.00,550.53 L151.50,549.41 L152.00,548.26 L152.50,547.06 L153.00,545.83 L153.50,544.57 L154.00,543.29 L154.50,541.98 L155.00,540.67 L155.50,539.34 L156.00,538.01 L156.50,536.69 L157.00,535.38 L157.50,534.09 L158.00,532.83 L158.50,531.60 L159.00,530.42 L159.50,529.28 L160.00,528.21 L160.50,527.20 L161.00,526.26 L161.50,525.40 L162.00,524.63 L162.50,523.95 L163.00,523.36 L163.50,522.88 L164.00,522.50 L164.50,522.22 L165.00,522.06 L165.50,522.00 L166.00,522.06 L166.50,522.22 L167.00,522.50 L167.50,522.88 L168.00,523.36 L168.50,523.95 L169.00,524.63 L169.50,525.40 L170.00,526.26 L170.50,527.20 L171.00,528.21 L171.50,529.28 L172.00,530.42 L172.50,531.60 L173.00,532.83 L173.50,534.09 L174.00,535.38 L174.50,536.69 L175.00,538.01 L175.50,539.34 L176.00,540.67 L176.50,541.98 L177.00,543.29 L177.50,544.57 L178.00,545.83 L178.50,547.06 L179.00,548.26 L179.50,549.41 L180.00,550.53 L180.50,551.60 L181.00,552.63 L181.50,553.61 L182.00,554.55 L182.50,555.43 L183.00,556.26 L183.50,557.05 L184.00,557.78 L184.50,558.47 L185.00,559.11 L185.50,559.71 L186.00,560.26 L186.50,560.76 L187.00,561.23 L187.50,561.66 L188.00,562.05 L188.50,562.41 L189.00,562.73 L189.50,563.03 L190.00,563.29 L190.50,563.53 L191.00,563.74 L191.50,563.94 L192.00,564.11 L192.50,564.26 L193.00,564.40 L193.50,564.52 L194.00,564.62 L194.50,564.71 L195.00,564.80 L195.50,564.87 L196.00,564.93 L196.50,564.98 L197.00,565.03 L197.50,565.07 L198.00,565.11 L198.50,565.14 L199.00,565.16 L199.50,565.18 L200.00,565.20 L200.50,565.22 L201.00,565.23 L201.50,565.24 L202.00,565.25 L202.50,565.26 L203.00,565.27 L203.50,565.27 L204.00,565.28 L204.50,565.28 L205.00,565.29 L205.50,565.29 L206.00,565.29 L206.50,565.29 L207.00,565.29 L207.50,565.29 L208.00,565.30 L208.50,565.30 L209.00,565.30 L209.50,565.30 L210.00,565.30 L210.50,565.30 L211.00,565.30 L211.50,565.30 L212.00,565.30 L212.50,565.30 L213.00,565.30 L213.50,565.30 L214.00,565.30 L214.50,565.30 L215.00,565.30 L215.50,565.30 L216.00,565.30 L216.50,565.30 L217.00,565.30 L217.50,565.30 L218.00,565.30 L218.50,565.30 L219.00,565.30 L219.50,565.30 L220.00,565.30 L220.50,565.30 L221.00,565.30 L221.50,565.30 L222.00,565.30 L222.50,565.30 L223.00,565.30 L223.50,565.30 L224.00,565.30 L224.50,565.30 L225.00,565.30 L225.50,565.30 L226.00,565.30 L226.50,565.30 L227.00,565.30 L227.50,565.30 L228.00,565.30 L228.50,565.30 L229.00,565.30 L229.50,565.30 L230.00,565.30 L230.50,565.30 L231.00,565.30 L231.50,565.30 L232.00,565.30 L232.50,565.30 L233.00,565.30 L233.50,565.30 L234.00,565.30 L234.50,565.30 L235.00,565.30 L235.50,565.30 L236.00,565.30 L236.50,565.30 L237.00,565.30 L237.50,565.30 L238.00,565.30 L238.50,565.30 L239.00,565.30 L239.50,565.30 L240.00,565.30 L240.50,565.30 L241.00,565.30 L241.50,565.30 L242.00,565.30 L242.50,565.30 L243.00,565.30 L243.50,565.30 L244.00,565.30 L244.50,565.30 L245.00,565.30 L245.50,565.30 L246.00,565.30 L246.50,565.30 L247.00,565.30 L247.50,565.30 L248.00,565.30 L248.50,565.30 L249.00,565.30 L249.50,565.30 L250.00,565.30 L250.50,565.30 L251.00,565.30 L251.50,565.30 L252.00,565.30 L252.50,565.30 L253.00,565.30 L253.50,565.30 L254.00,565.30 L254.50,565.30 L255.00,565.30 L255.50,565.30 L256.00,565.30 L256.50,565.30 L257.00,565.30 L257.50,565.30 L258.00,565.30 L258.50,565.30 L259.00,565.30 L259.50,565.30 L260.00,565.30 L260.50,565.30 L261.00,565.30 L261.50,565.30 L262.00,565.30 L262.50,565.30 L263.00,565.30 L263.50,565.30 L264.00,565.30 L264.50,565.30 L265.00,565.30 L265.50,565.30 L266.00,565.30 L266.50,565.30 L267.00,565.30 L267.50,565.30 L268.00,565.30 L268.50,565.30 L269.00,565.30 L269.50,565.30 L270.00,565.30 L270.50,565.30 L271.00,565.30 L271.50,565.30 L272.00,565.30 L272.50,565.30 L273.00,565.30 L273.50,565.30 L274.00,565.30 L274.50,565.30 L275.00,565.30 L275.50,565.30 L276.00,565.30 L276.50,565.30 L277.00,565.30 L277.50,565.30 L278.00,565.30 L278.50,565.30 L279.00,565.30 L279.50,565.30 L280.00,565.30 L280.50,565.30 L281.00,565.30 L281.50,565.30 L282.00,565.30 L282.50,565.30 L283.00,565.30 L283.50,565.30 L284.00,565.30 L284.50,565.30 L285.00,565.30 L285.50,565.30 L286.00,565.30 L286.50,565.30 L287.00,565.30 L287.50,565.30 L288.00,565.30 L288.50,565.30 L289.00,565.30 L289.50,565.30 L290.00,565.30 L290.50,565.30 L291.00,565.30 L291.50,565.30 L292.00,565.30 L292.50,565.30 L293.00,565.30 L293.50,565.30 L294.00,565.30 L294.50,565.30 L295.00,565.30 L295.50,565.30 L296.00,565.30 L296.50,565.30 L297.00,565.30 L297.50,565.30 L298.00,565.30 L298.50,565.30 L299.00,565.30 L299.50,565.30 L300.00,565.30 L300.50,565.30 L301.00,565.30 L301.50,565.30 L302.00,565.30 L302.50,565.30 L303.00,565.30 L303.50,565.30 L304.00,565.30 L304.50,565.30 L305.00,565.30 L305.50,565.30 L306.00,565.30 L306.50,565.30 L307.00,565.30 L307.50,565.30 L308.00,565.30 L308.50,565.30 L309.00,565.30 L309.50,565.30 L310.00,565.30 L310.50,565.30 L311.00,565.30 L311.50,565.30 L312.00,565.30 L312.50,565.30 L313.00,565.30 L313.50,565.30 L314.00,565.30 L314.50,565.30 L315.00,565.30 L315.50,565.30 L316.00,565.30 L316.50,565.30 L317.00,565.30 L317.50,565.30 L318.00,565.30 L318.50,565.30 L319.00,565.30 L319.50,565.30 L320.00,565.30 L320.50,565.30 L321.00,565.30 L321.50,565.30 L322.00,565.30 L322.50,565.30 L323.00,565.30 L323.50,565.30 L324.00,565.30 L324.50,565.30 L325.00,565.30 L325.50,565.30 L326.00,565.30 L326.50,565.30 L327.00,565.30 L327.50,565.30 L328.00,565.30 L328.50,565.30 L329.00,565.30 L329.50,565.30 L330.00,565.30 L330.50,565.30 L331.00,565.30 L331.50,565.30 L332.00,565.30 L332.50,565.30 L333.00,565.30 L333.50,565.30 L334.00,565.30 L334.50,565.30 L335.00,565.30 L335.50,565.30 L336.00,565.30 L336.50,565.30 L337.00,565.30 L337.50,565.30 L338.00,565.30 L338.50,565.30 L339.00,565.30 L339.50,565.30 L340.00,565.30 L340.50,565.30 L341.00,565.30 L341.50,565.30 L342.00,565.30 L342.50,565.30 L343.00,565.30 L343.50,565.30 L344.00,565.30 L344.50,565.30 L345.00,565.30 L345.50,565.30 L346.00,565.30 L346.50,565.30 L347.00,565.30 L347.50,565.30 L348.00,565.30 L348.50,565.30 L349.00,565.30 L349.50,565.30 L350.00,565.30 L350.50,565.30 L351.00,565.30 L351.50,565.30 L352.00,565.30 L352.50,565.30 L353.00,565.30 L353.50,565.30 L354.00,565.30 L354.50,565.30 L355.00,565.30 L355.50,565.30 L356.00,565.30 L356.50,565.30 L357.00,565.30 L357.50,565.30 L358.00,565.30 L358.50,565.30 L359.00,565.30 L359.50,565.30 L360.00,565.30 L360.50,565.30 L361.00,565.30 L361.50,565.30 L362.00,565.30 L362.50,565.30 L363.00,565.30 L363.50,565.30 L364.00,565.30 L364.50,565.30 L365.00,565.30 L365.50,565.30 L366.00,565.30 L366.50,565.30 L367.00,565.30 L367.50,565.30 L368.00,565.30 L368.50,565.30 L369.00,565.30 L369.50,565.30 L370.00,565.30" fill="none" stroke="#008080" stroke-width="1.7"/>
<path d="M48.00,565.30 L48.50,565.30 L49.00,565.30 L49.50,565.30 L50.00,565.30 L50.50,565.30 L51.00,565.30 L51.50,565.30 L52.00,565.30 L52.50,565.30 L53.00,565.30 L53.50,565.30 L54.00,565.30 L54.50,565.30 L55.00,565.30 L55.50,565.30 L56.00,565.30 L56.50,565.30 L57.00,565.30 L57.50,565.30 L58.00,565.30 L58.50,565.30 L59.00,565.30 L59.50,565.30 L60.00,565.30 L60.50,565.30 L61.00,565.30 L61.50,565.30 L62.00,565.30 L62.50,565.30 L63.00,565.30 L63.50,565.30 L64.00,565.30 L64.50,565.30 L65.00,565.30 L65.50,565.30 L66.00,565.30 L66.50,565.30 L67.00,565.30 L67.50,565.30 L68.00,565.30 L68.50,565.30 L69.00,565.30 L69.50,565.30 L70.00,565.30 L70.50,565.30 L71.00,565.30 L71.50,565.30 L72.00,565.30 L72.50,565.30 L73.00,565.30 L73.50,565.30 L74.00,565.30 L74.50,565.30 L75.00,565.30 L75.50,565.30 L76.00,565.30 L76.50,565.30 L77.00,565.30 L77.50,565.30 L78.00,565.30 L78.50,565.30 L79.00,565.30 L79.50,565.30 L80.00,565.30 L80.50,565.30 L81.00,565.30 L81.50,565.30 L82.00,565.30 L82.50,565.30 L83.00,565.30 L83.50,565.30 L84.00,565.30 L84.50,565.30 L85.00,565.30 L85.50,565.30 L86.00,565.30 L86.50,565.30 L87.00,565.30 L87.50,565.30 L88.00,565.30 L88.50,565.30 L89.00,565.30 L89.50,565.30 L90.00,565.30 L90.50,565.30 L91.00,565.30 L91.50,565.30 L92.00,565.30 L92.50,565.30 L93.00,565.30 L93.50,565.30 L94.00,565.30 L94.50,565.30 L95.00,565.30 L95.50,565.30 L96.00,565.30 L96.50,565.30 L97.00,565.30 L97.50,565.30 L98.00,565.30 L98.50,565.30 L99.00,565.30 L99.50,565.30 L100.00,565.30 L100.50,565.30 L101.00,565.30 L101.50,565.30 L102.00,565.30 L102.50,565.30 L103.00,565.30 L103.50,565.30 L104.00,565.30 L104.50,565.30 L105.00,565.30 L105.50,565.30 L106.00,565.30 L106.50,565.30 L107.00,565.30 L107.50,565.30 L108.00,565.30 L108.50,565.30 L109.00,565.30 L109.50,565.30 L110.00,565.30 L110.50,565.30 L111.00,565.30 L111.50,565.30 L112.00,565.30 L112.50,565.30 L113.00,565.30 L113.50,565.30 L114.00,565.30 L114.50,565.30 L115.00,565.30 L115.50,565.30 L116.00,565.30 L116.50,565.30 L117.00,565.30 L117.50,565.30 L118.00,565.30 L118.50,565.30 L119.00,565.30 L119.50,565.30 L120.00,565.30 L120.50,565.30 L121.00,565.30 L121.50,565.30 L122.00,565.30 L122.50,565.30 L123.00,565.30 L123.50,565.30 L124.00,565.30 L124.50,565.30 L125.00,565.30 L125.50,565.30 L126.00,565.30 L126.50,565.30 L127.00,565.30 L127.50,565.30 L128.00,565.30 L128.50,565.30 L129.00,565.30 L129.50,565.30 L130.00,565.30 L130.50,565.30 L131.00,565.30 L131.50,565.30 L132.00,565.30 L132.50,565.30 L133.00,565.30 L133.50,565.30 L134.00,565.30 L134.50,565.30 L135.00,565.30 L135.50,565.30 L136.00,565.30 L136.50,565.30 L137.00,565.30 L137.50,565.30 L138.00,565.30 L138.50,565.30 L139.00,565.30 L139.50,565.30 L140.00,565.30 L140.50,565.30 L141.00,565.30 L141.50,565.30 L142.00,565.30 L142.50,565.30 L143.00,565.30 L143.50,565.30 L144.00,565.30 L144.50,565.30 L145.00,565.30 L145.50,565.30 L146.00,565.30 L146.50,565.30 L147.00,565.30 L147.50,565.30 L148.00,565.30 L148.50,565.30 L149.00,565.30 L149.50,565.30 L150.00,565.30 L150.50,565.30 L151.00,565.30 L151.50,565.30 L152.00,565.29 L152.50,565.29 L153.00,565.29 L153.50,565.29 L154.00,565.29 L154.50,565.28 L155.00,565.28 L155.50,565.28 L156.00,565.27 L156.50,565.27 L157.00,565.26 L157.50,565.26 L158.00,565.25 L158.50,565.24 L159.00,565.23 L159.50,565.21 L160.00,565.20 L160.50,565.18 L161.00,565.16 L161.50,565.14 L162.00,565.11 L162.50,565.08 L163.00,565.05 L163.50,565.01 L164.00,564.96 L164.50,564.91 L165.00,564.86 L165.50,564.80 L166.00,564.73 L166.50,564.65 L167.00,564.56 L167.50,564.46 L168.00,564.36 L168.50,564.24 L169.00,564.11 L169.50,563.96 L170.00,563.81 L170.50,563.63 L171.00,563.45 L171.50,563.24 L172.00,563.03 L172.50,562.79 L173.00,562.54 L173.50,562.26 L174.00,561.97 L174.50,561.66 L175.00,561.33 L175.50,560.98 L176.00,560.62 L176.50,560.23 L177.00,559.82 L177.50,559.40 L178.00,558.96 L178.50,558.50 L179.00,558.03 L179.50,557.54 L180.00,557.05 L180.50,556.54 L181.00,556.02 L181.50,555.50 L182.00,554.97 L182.50,554.44 L183.00,553.91 L183.50,553.38 L184.00,552.86 L184.50,552.35 L185.00,551.85 L185.50,551.37 L186.00,550.90 L186.50,550.45 L187.00,550.03 L187.50,549.63 L188.00,549.27 L188.50,548.93 L189.00,548.63 L189.50,548.36 L190.00,548.13 L190.50,547.94 L191.00,547.79 L191.50,547.69 L192.00,547.62 L192.50,547.60 L193.00,547.62 L193.50,547.69 L194.00,547.79 L194.50,547.94 L195.00,548.13 L195.50,548.36 L196.00,548.63 L196.50,548.93 L197.00,549.27 L197.50,549.63 L198.00,550.03 L198.50,550.45 L199.00,550.90 L199.50,551.37 L200.00,551.85 L200.50,552.35 L201.00,552.86 L201.50,553.38 L202.00,553.91 L202.50,554.44 L203.00,554.97 L203.50,555.50 L204.00,556.02 L204.50,556.54 L205.00,557.05 L205.50,557.54 L206.00,558.03 L206.50,558.50 L207.00,558.96 L207.50,559.40 L208.00,559.82 L208.50,560.23 L209.00,560.62 L209.50,560.98 L210.00,561.33 L210.50,561.66 L211.00,561.97 L211.50,562.26 L212.00,562.54 L212.50,562.79 L213.00,563.03 L213.50,563.24 L214.00,563.45 L214.50,563.63 L215.00,563.81 L215.50,563.96 L216.00,564.11 L216.50,564.24 L217.00,564.36 L217.50,564.46 L218.00,564.56 L218.50,564.65 L219.00,564.73 L219.50,564.80 L220.00,564.86 L220.50,564.91 L221.00,564.96 L221.50,565.01 L222.00,565.05 L222.50,565.08 L223.00,565.11 L223.50,565.14 L224.00,565.16 L224.50,565.18 L225.00,565.20 L225.50,565.21 L226.00,565.23 L226.50,565.24 L227.00,565.25 L227.50,565.26 L228.00,565.26 L228.50,565.27 L229.00,565.27 L229.50,565.28 L230.00,565.28 L230.50,565.28 L231.00,565.29 L231.50,565.29 L232.00,565.29 L232.50,565.29 L233.00,565.29 L233.50,565.30 L234.00,565.30 L234.50,565.30 L235.00,565.30 L235.50,565.30 L236.00,565.30 L236.50,565.30 L237.00,565.30 L237.50,565.30 L238.00,565.30 L238.50,565.30 L239.00,565.30 L239.50,565.30 L240.00,565.30 L240.50,565.30 L241.00,565.30 L241.50,565.30 L242.00,565.30 L242.50,565.30 L243.00,565.30 L243.50,565.30 L244.00,565.30 L244.50,565.30 L245.00,565.30 L245.50,565.30 L246.00,565.30 L246.50,565.30 L247.00,565.30 L247.50,565.30 L248.00,565.30 L248.50,565.30 L249.00,565.30 L249.50,565.30 L250.00,565.30 L250.50,565.30 L251.00,565.30 L251.50,565.30 L252.00,565.30 L252.50,565.30 L253.00,565.30 L253.50,565.30 L254.00,565.30 L254.50,565.30 L255.00,565.30 L255.50,565.30 L256.00,565.30 L256.50,565.30 L257.00,565.30 L257.50,565.30 L258.00,565.30 L258.50,565.30 L259.00,565.30 L259.50,565.30 L260.00,565.30 L260.50,565.30 L261.00,565.30 L261.50,565.30 L262.00,565.30 L262.50,565.30 L263.00,565.30 L263.50,565.30 L264.00,565.30 L264.50,565.30 L265.00,565.30 L265.50,565.30 L266.00,565.30 L266.50,565.30 L267.00,565.30 L267.50,565.30 L268.00,565.30 L268.50,565.30 L269.00,565.30 L269.50,565.30 L270.00,565.30 L270.50,565.30 L271.00,565.30 L271.50,565.30 L272.00,565.30 L272.50,565.30 L273.00,565.30 L273.50,565.30 L274.00,565.30 L274.50,565.30 L275.00,565.30 L275.50,565.30 L276.00,565.30 L276.50,565.30 L277.00,565.30 L277.50,565.30 L278.00,565.30 L278.50,565.30 L279.00,565.30 L279.50,565.30 L280.00,565.30 L280.50,565.30 L281.00,565.30 L281.50,565.30 L282.00,565.30 L282.50,565.30 L283.00,565.30 L283.50,565.30 L284.00,565.30 L284.50,565.30 L285.00,565.30 L285.50,565.30 L286.00,565.30 L286.50,565.30 L287.00,565.30 L287.50,565.30 L288.00,565.30 L288.50,565.30 L289.00,565.30 L289.50,565.30 L290.00,565.30 L290.50,565.30 L291.00,565.30 L291.50,565.30 L292.00,565.30 L292.50,565.30 L293.00,565.30 L293.50,565.30 L294.00,565.30 L294.50,565.30 L295.00,565.30 L295.50,565.30 L296.00,565.30 L296.50,565.30 L297.00,565.30 L297.50,565.30 L298.00,565.30 L298.50,565.30 L299.00,565.30 L299.50,565.30 L300.00,565.30 L300.50,565.30 L301.00,565.30 L301.50,565.30 L302.00,565.30 L302.50,565.30 L303.00,565.30 L303.50,565.30 L304.00,565.30 L304.50,565.30 L305.00,565.30 L305.50,565.30 L306.00,565.30 L306.50,565.30 L307.00,565.30 L307.50,565.30 L308.00,565.30 L308.50,565.30 L309.00,565.30 L309.50,565.30 L310.00,565.30 L310.50,565.30 L311.00,565.30 L311.50,565.30 L312.00,565.30 L312.50,565.30 L313.00,565.30 L313.50,565.30 L314.00,565.30 L314.50,565.30 L315.00,565.30 L315.50,565.30 L316.00,565.30 L316.50,565.30 L317.00,565.30 L317.50,565.30 L318.00,565.30 L318.50,565.30 L319.00,565.30 L319.50,565.30 L320.00,565.30 L320.50,565.30 L321.00,565.30 L321.50,565.30 L322.00,565.30 L322.50,565.30 L323.00,565.30 L323.50,565.30 L324.00,565.30 L324.50,565.30 L325.00,565.30 L325.50,565.30 L326.00,565.30 L326.50,565.30 L327.00,565.30 L327.50,565.30 L328.00,565.30 L328.50,565.30 L329.00,565.30 L329.50,565.30 L330.00,565.30 L330.50,565.30 L331.00,565.30 L331.50,565.30 L332.00,565.30 L332.50,565.30 L333.00,565.30 L333.50,565.30 L334.00,565.30 L334.50,565.30 L335.00,565.30 L335.50,565.30 L336.00,565.30 L336.50,565.30 L337.00,565.30 L337.50,565.30 L338.00,565.30 L338.50,565.30 L339.00,565.30 L339.50,565.30 L340.00,565.30 L340.50,565.30 L341.00,565.30 L341.50,565.30 L342.00,565.30 L342.50,565.30 L343.00,565.30 L343.50,565.30 L344.00,565.30 L344.50,565.30 L345.00,565.30 L345.50,565.30 L346.00,565.30 L346.50,565.30 L347.00,565.30 L347.50,565.30 L348.00,565.30 L348.50,565.30 L349.00,565.30 L349.50,565.30 L350.00,565.30 L350.50,565.30 L351.00,565.30 L351.50,565.30 L352.00,565.30 L352.50,565.30 L353.00,565.30 L353.50,565.30 L354.00,565.30 L354.50,565.30 L355.00,565.30 L355.50,565.30 L356.00,565.30 L356.50,565.30 L357.00,565.30 L357.50,565.30 L358.00,565.30 L358.50,565.30 L359.00,565.30 L359.50,565.30 L360.00,565.30 L360.50,565.30 L361.00,565.30 L361.50,565.30 L362.00,565.30 L362.50,565.30 L363.00,565.30 L363.50,565.30 L364.00,565.30 L364.50,565.30 L365.00,565.30 L365.50,565.30 L366.00,565.30 L366.50,565.30 L367.00,565.30 L367.50,565.30 L368.00,565.30 L368.50,565.30 L369.00,565.30 L369.50,565.30 L370.00,565.30" fill="none" stroke="#ff00ff" stroke-width="1.7"/>
<path d="M48.00,565.28 L48.50,565.28 L49.00,565.28 L49.50,565.28 L50.00,565.28 L50.50,565.28 L51.00,565.28 L51.50,565.28 L52.00,565.28 L52.50,565.28 L53.00,565.28 L53.50,565.28 L54.00,565.28 L54.50,565.28 L55.00,565.28 L55.50,565.28 L56.00,565.28 L56.50,565.28 L57.00,565.28 L57.50,565.28 L58.00,565.28 L58.50,565.28 L59.00,565.28 L59.50,565.28 L60.00,565.28 L60.50,565.28 L61.00,565.28 L61.50,565.28 L62.00,565.28 L62.50,565.28 L63.00,565.28 L63.50,565.28 L64.00,565.28 L64.50,565.28 L65.00,565.28 L65.50,565.28 L66.00,565.28 L66.50,565.28 L67.00,565.28 L67.50,565.28 L68.00,565.28 L68.50,565.28 L69.00,565.28 L69.50,565.28 L70.00,565.28 L70.50,565.28 L71.00,565.28 L71.50,565.28 L72.00,565.28 L72.50,565.28 L73.00,565.28 L73.50,565.28 L74.00,565.28 L74.50,565.28 L75.00,565.28 L75.50,565.28 L76.00,565.28 L76.50,565.28 L77.00,565.28 L77.50,565.28 L78.00,565.28 L78.50,565.28 L79.00,565.28 L79.50,565.28 L80.00,565.28 L80.50,565.28 L81.00,565.28 L81.50,565.27 L82.00,565.27 L82.50,565.27 L83.00,565.27 L83.50,565.27 L84.00,565.27 L84.50,565.27 L85.00,565.27 L85.50,565.27 L86.00,565.27 L86.50,565.27 L87.00,565.27 L87.50,565.27 L88.00,565.27 L88.50,565.27 L89.00,565.27 L89.50,565.27 L90.00,565.27 L90.50,565.27 L91.00,565.27 L91.50,565.27 L92.00,565.27 L92.50,565.27 L93.00,565.27 L93.50,565.27 L94.00,565.27 L94.50,565.27 L95.00,565.27 L95.50,565.27 L96.00,565.27 L96.50,565.27 L97.00,565.27 L97.50,565.27 L98.00,565.27 L98.50,565.27 L99.00,565.27 L99.50,565.27 L100.00,565.27 L100.50,565.27 L101.00,565.27 L101.50,565.27 L102.00,565.27 L102.50,565.26 L103.00,565.26 L103.50,565.26 L104.00,565.26 L104.50,565.26 L105.00,565.26 L105.50,565.26 L106.00,565.26 L106.50,565.26 L107.00,565.26 L107.50,565.26 L108.00,565.26 L108.50,565.26 L109.00,565.26 L109.50,565.26 L110.00,565.26 L110.50,565.26 L111.00,565.26 L111.50,565.26 L112.00,565.26 L112.50,565.26 L113.00,565.26 L113.50,565.26 L114.00,565.26 L114.50,565.26 L115.00,565.26 L115.50,565.26 L116.00,565.25 L116.50,565.25 L117.00,565.25 L117.50,565.25 L118.00,565.25 L118.50,565.25 L119.00,565.25 L119.50,565.25 L120.00,565.25 L120.50,565.25 L121.00,565.25 L121.50,565.25 L122.00,565.25 L122.50,565.25 L123.00,565.25 L123.50,565.25 L124.00,565.25 L124.50,565.25 L125.00,565.25 L125.50,565.25 L126.00,565.24 L126.50,565.24 L127.00,565.24 L127.50,565.24 L128.00,565.24 L128.50,565.24 L129.00,565.24 L129.50,565.24 L130.00,565.24 L130.50,565.24 L131.00,565.24 L131.50,565.24 L132.00,565.24 L132.50,565.24 L133.00,565.24 L133.50,565.23 L134.00,565.23 L134.50,565.23 L135.00,565.23 L135.50,565.23 L136.00,565.23 L136.50,565.23 L137.00,565.23 L137.50,565.23 L138.00,565.23 L138.50,565.23 L139.00,565.23 L139.50,565.22 L140.00,565.22 L140.50,565.22 L141.00,565.22 L141.50,565.22 L142.00,565.22 L142.50,565.22 L143.00,565.22 L143.50,565.22 L144.00,565.22 L144.50,565.21 L145.00,565.21 L145.50,565.21 L146.00,565.21 L146.50,565.21 L147.00,565.21 L147.50,565.21 L148.00,565.21 L148.50,565.20 L149.00,565.20 L149.50,565.20 L150.00,565.20 L150.50,565.20 L151.00,565.20 L151.50,565.20 L152.00,565.19 L152.50,565.19 L153.00,565.19 L153.50,565.19 L154.00,565.19 L154.50,565.19 L155.00,565.18 L155.50,565.18 L156.00,565.18 L156.50,565.18 L157.00,565.18 L157.50,565.17 L158.00,565.17 L158.50,565.17 L159.00,565.17 L159.50,565.17 L160.00,565.16 L160.50,565.16 L161.00,565.16 L161.50,565.16 L162.00,565.15 L162.50,565.15 L163.00,565.15 L163.50,565.15 L164.00,565.14 L164.50,565.14 L165.00,565.14 L165.50,565.13 L166.00,565.13 L166.50,565.13 L167.00,565.12 L167.50,565.12 L168.00,565.12 L168.50,565.11 L169.00,565.11 L169.50,565.11 L170.00,565.10 L170.50,565.10 L171.00,565.09 L171.50,565.09 L172.00,565.08 L172.50,565.08 L173.00,565.07 L173.50,565.07 L174.00,565.06 L174.50,565.06 L175.00,565.05 L175.50,565.05 L176.00,565.04 L176.50,565.03 L177.00,565.02 L177.50,565.02 L178.00,565.01 L178.50,565.00 L179.00,564.99 L179.50,564.98 L180.00,564.97 L180.50,564.95 L181.00,564.94 L181.50,564.93 L182.00,564.91 L182.50,564.89 L183.00,564.88 L183.50,564.86 L184.00,564.84 L184.50,564.81 L185.00,564.79 L185.50,564.76 L186.00,564.73 L186.50,564.70 L187.00,564.66 L187.50,564.63 L188.00,564.58 L188.50,564.54 L189.00,564.49 L189.50,564.44 L190.00,564.38 L190.50,564.32 L191.00,564.26 L191.50,564.19 L192.00,564.11 L192.50,564.03 L193.00,563.94 L193.50,563.84 L194.00,563.74 L194.50,563.64 L195.00,563.52 L195.50,563.40 L196.00,563.27 L196.50,563.13 L197.00,562.99 L197.50,562.83 L198.00,562.67 L198.50,562.50 L199.00,562.33 L199.50,562.14 L200.00,561.95 L200.50,561.75 L201.00,561.54 L201.50,561.32 L202.00,561.10 L202.50,560.87 L203.00,560.63 L203.50,560.39 L204.00,560.14 L204.50,559.89 L205.00,559.64 L205.50,559.38 L206.00,559.11 L206.50,558.85 L207.00,558.59 L207.50,558.33 L208.00,558.07 L208.50,557.81 L209.00,557.56 L209.50,557.31 L210.00,557.07 L210.50,556.83 L211.00,556.61 L211.50,556.40 L212.00,556.20 L212.50,556.02 L213.00,555.85 L213.50,555.70 L214.00,555.56 L214.50,555.45 L215.00,555.36 L215.50,555.28 L216.00,555.23 L216.50,555.21 L217.00,555.20 L217.50,555.22 L218.00,555.26 L218.50,555.32 L219.00,555.41 L219.50,555.52 L220.00,555.64 L220.50,555.79 L221.00,555.95 L221.50,556.13 L222.00,556.32 L222.50,556.53 L223.00,556.74 L223.50,556.97 L224.00,557.21 L224.50,557.46 L225.00,557.71 L225.50,557.96 L226.00,558.22 L226.50,558.48 L227.00,558.75 L227.50,559.01 L228.00,559.27 L228.50,559.53 L229.00,559.79 L229.50,560.04 L230.00,560.29 L230.50,560.54 L231.00,560.78 L231.50,561.01 L232.00,561.23 L232.50,561.45 L233.00,561.66 L233.50,561.87 L234.00,562.07 L234.50,562.25 L235.00,562.43 L235.50,562.61 L236.00,562.77 L236.50,562.93 L237.00,563.08 L237.50,563.22 L238.00,563.35 L238.50,563.47 L239.00,563.59 L239.50,563.70 L240.00,563.80 L240.50,563.90 L241.00,563.99 L241.50,564.08 L242.00,564.16 L242.50,564.23 L243.00,564.30 L243.50,564.36 L244.00,564.42 L244.50,564.47 L245.00,564.52 L245.50,564.57 L246.00,564.61 L246.50,564.65 L247.00,564.69 L247.50,564.72 L248.00,564.75 L248.50,564.78 L249.00,564.80 L249.50,564.83 L250.00,564.85 L250.50,564.87 L251.00,564.89 L251.50,564.90 L252.00,564.92 L252.50,564.93 L253.00,564.95 L253.50,564.96 L254.00,564.97 L254.50,564.98 L255.00,564.99 L255.50,565.00 L256.00,565.01 L256.50,565.02 L257.00,565.03 L257.50,565.04 L258.00,565.04 L258.50,565.05 L259.00,565.06 L259.50,565.06 L260.00,565.07 L260.50,565.07 L261.00,565.08 L261.50,565.08 L262.00,565.09 L262.50,565.09 L263.00,565.10 L263.50,565.10 L264.00,565.10 L264.50,565.11 L265.00,565.11 L265.50,565.12 L266.00,565.12 L266.50,565.12 L267.00,565.13 L267.50,565.13 L268.00,565.13 L268.50,565.14 L269.00,565.14 L269.50,565.14 L270.00,565.14 L270.50,565.15 L271.00,565.15 L271.50,565.15 L272.00,565.16 L272.50,565.16 L273.00,565.16 L273.50,565.16 L274.00,565.16 L274.50,565.17 L275.00,565.17 L275.50,565.17 L276.00,565.17 L276.50,565.18 L277.00,565.18 L277.50,565.18 L278.00,565.18 L278.50,565.18 L279.00,565.18 L279.50,565.19 L280.00,565.19 L280.50,565.19 L281.00,565.19 L281.50,565.19 L282.00,565.19 L282.50,565.20 L283.00,565.20 L283.50,565.20 L284.00,565.20 L284.50,565.20 L285.00,565.20 L285.50,565.20 L286.00,565.21 L286.50,565.21 L287.00,565.21 L287.50,565.21 L288.00,565.21 L288.50,565.21 L289.00,565.21 L289.50,565.21 L290.00,565.22 L290.50,565.22 L291.00,565.22 L291.50,565.22 L292.00,565.22 L292.50,565.22 L293.00,565.22 L293.50,565.22 L294.00,565.22 L294.50,565.22 L295.00,565.23 L295.50,565.23 L296.00,565.23 L296.50,565.23 L297.00,565.23 L297.50,565.23 L298.00,565.23 L298.50,565.23 L299.00,565.23 L299.50,565.23 L300.00,565.23 L300.50,565.24 L301.00,565.24 L301.50,565.24 L302.00,565.24 L302.50,565.24 L303.00,565.24 L303.50,565.24 L304.00,565.24 L304.50,565.24 L305.00,565.24 L305.50,565.24 L306.00,565.24 L306.50,565.24 L307.00,565.24 L307.50,565.24 L308.00,565.25 L308.50,565.25 L309.00,565.25 L309.50,565.25 L310.00,565.25 L310.50,565.25 L311.00,565.25 L311.50,565.25 L312.00,565.25 L312.50,565.25 L313.00,565.25 L313.50,565.25 L314.00,565.25 L314.50,565.25 L315.00,565.25 L315.50,565.25 L316.00,565.25 L316.50,565.25 L317.00,565.25 L317.50,565.25 L318.00,565.26 L318.50,565.26 L319.00,565.26 L319.50,565.26 L320.00,565.26 L320.50,565.26 L321.00,565.26 L321.50,565.26 L322.00,565.26 L322.50,565.26 L323.00,565.26 L323.50,565.26 L324.00,565.26 L324.50,565.26 L325.00,565.26 L325.50,565.26 L326.00,565.26 L326.50,565.26 L327.00,565.26 L327.50,565.26 L328.00,565.26 L328.50,565.26 L329.00,565.26 L329.50,565.26 L330.00,565.26 L330.50,565.26 L331.00,565.26 L331.50,565.27 L332.00,565.27 L332.50,565.27 L333.00,565.27 L333.50,565.27 L334.00,565.27 L334.50,565.27 L335.00,565.27 L335.50,565.27 L336.00,565.27 L336.50,565.27 L337.00,565.27 L337.50,565.27 L338.00,565.27 L338.50,565.27 L339.00,565.27 L339.50,565.27 L340.00,565.27 L340.50,565.27 L341.00,565.27 L341.50,565.27 L342.00,565.27 L342.50,565.27 L343.00,565.27 L343.50,565.27 L344.00,565.27 L344.50,565.27 L345.00,565.27 L345.50,565.27 L346.00,565.27 L346.50,565.27 L347.00,565.27 L347.50,565.27 L348.00,565.27 L348.50,565.27 L349.00,565.27 L349.50,565.27 L350.00,565.27 L350.50,565.27 L351.00,565.27 L351.50,565.27 L352.00,565.27 L352.50,565.27 L353.00,565.28 L353.50,565.28 L354.00,565.28 L354.50,565.28 L355.00,565.28 L355.50,565.28 L356.00,565.28 L356.50,565.28 L357.00,565.28 L357.50,565.28 L358.00,565.28 L358.50,565.28 L359.00,565.28 L359.50,565.28 L360.00,565.28 L360.50,565.28 L361.00,565.28 L361.50,565.28 L362.00,565.28 L362.50,565.28 L363.00,565.28 L363.50,565.28 L364.00,565.28 L364.50,565.28 L365.00,565.28 L365.50,565.28 L366.00,565.28 L366.50,565.28 L367.00,565.28 L367.50,565.28 L368.00,565.28 L368.50,565.28 L369.00,565.28 L369.50,565.28 L370.00,565.28" fill="none" stroke="#808000" stroke-width="1.7"/>
<path d="M48.00,565.29 L48.50,565.29 L49.00,565.29 L49.50,565.29 L50.00,565.29 L50.50,565.29 L51.00,565.29 L51.50,565.29 L52.00,565.29 L52.50,565.29 L53.00,565.29 L53.50,565.29 L54.00,565.29 L54.50,565.29 L55.00,565.29 L55.50,565.29 L56.00,565.29 L56.50,565.29 L57.00,565.29 L57.50,565.29 L58.00,565.29 L58.50,565.29 L59.00,565.29 L59.50,565.29 L60.00,565.29 L60.50,565.29 L61.00,565.29 L61.50,565.29 L62.00,565.29 L62.50,565.29 L63.00,565.29 L63.50,565.29 L64.00,565.29 L64.50,565.29 L65.00,565.29 L65.50,565.29 L66.00,565.29 L66.50,565.29 L67.00,565.29 L67.50,565.29 L68.00,565.29 L68.50,565.29 L69.00,565.29 L69.50,565.29 L70.00,565.29 L70.50,565.29 L71.00,565.29 L71.50,565.29 L72.00,565.29 L72.50,565.29 L73.00,565.29 L73.50,565.29 L74.00,565.29 L74.50,565.29 L75.00,565.29 L75.50,565.29 L76.00,565.29 L76.50,565.29 L77.00,565.29 L77.50,565.29 L78.00,565.29 L78.50,565.29 L79.00,565.29 L79.50,565.29 L80.00,565.29 L80.50,565.29 L81.00,565.29 L81.50,565.29 L82.00,565.29 L82.50,565.29 L83.00,565.29 L83.50,565.29 L84.00,565.29 L84.50,565.29 L85.00,565.29 L85.50,565.29 L86.00,565.29 L86.50,565.29 L87.00,565.29 L87.50,565.29 L88.00,565.29 L88.50,565.29 L89.00,565.29 L89.50,565.29 L90.00,565.29 L90.50,565.29 L91.00,565.29 L91.50,565.29 L92.00,565.29 L92.50,565.29 L93.00,565.29 L93.50,565.29 L94.00,565.29 L94.50,565.29 L95.00,565.29 L95.50,565.29 L96.00,565.29 L96.50,565.29 L97.00,565.29 L97.50,565.29 L98.00,565.29 L98.50,565.29 L99.00,565.29 L99.50,565.29 L100.00,565.29 L100.50,565.29 L101.00,565.29 L101.50,565.29 L102.00,565.29 L102.50,565.29 L103.00,565.29 L103.50,565.29 L104.00,565.29 L104.50,565.28 L105.00,565.28 L105.50,565.28 L106.00,565.28 L106.50,565.28 L107.00,565.28 L107.50,565.28 L108.00,565.28 L108.50,565.28 L109.00,565.28 L109.50,565.28 L110.00,565.28 L110.50,565.28 L111.00,565.28 L111.50,565.28 L112.00,565.28 L112.50,565.28 L113.00,565.28 L113.50,565.28 L114.00,565.28 L114.50,565.28 L115.00,565.28 L115.50,565.28 L116.00,565.28 L116.50,565.28 L117.00,565.28 L117.50,565.28 L118.00,565.28 L118.50,565.28 L119.00,565.28 L119.50,565.28 L120.00,565.28 L120.50,565.28 L121.00,565.28 L121.50,565.28 L122.00,565.28 L122.50,565.28 L123.00,565.28 L123.50,565.28 L124.00,565.28 L124.50,565.28 L125.00,565.28 L125.50,565.28 L126.00,565.28 L126.50,565.28 L127.00,565.28 L127.50,565.28 L128.00,565.28 L128.50,565.28 L129.00,565.28 L129.50,565.28 L130.00,565.28 L130.50,565.28 L131.00,565.28 L131.50,565.28 L132.00,565.28 L132.50,565.28 L133.00,565.28 L133.50,565.28 L134.00,565.28 L134.50,565.28 L135.00,565.28 L135.50,565.28 L136.00,565.27 L136.50,565.27 L137.00,565.27 L137.50,565.27 L138.00,565.27 L138.50,565.27 L139.00,565.27 L139.50,565.27 L140.00,565.27 L140.50,565.27 L141.00,565.27 L141.50,565.27 L142.00,565.27 L142.50,565.27 L143.00,565.27 L143.50,565.27 L144.00,565.27 L144.50,565.27 L145.00,565.27 L145.50,565.27 L146.00,565.27 L146.50,565.27 L147.00,565.27 L147.50,565.27 L148.00,565.27 L148.50,565.27 L149.00,565.27 L149.50,565.27 L150.00,565.27 L150.50,565.27 L151.00,565.27 L151.50,565.27 L152.00,565.27 L152.50,565.26 L153.00,565.26 L153.50,565.26 L154.00,565.26 L154.50,565.26 L155.00,565.26 L155.50,565.26 L156.00,565.26 L156.50,565.26 L157.00,565.26 L157.50,565.26 L158.00,565.26 L158.50,565.26 L159.00,565.26 L159.50,565.26 L160.00,565.26 L160.50,565.26 L161.00,565.26 L161.50,565.26 L162.00,565.26 L162.50,565.26 L163.00,565.26 L163.50,565.25 L164.00,565.25 L164.50,565.25 L165.00,565.25 L165.50,565.25 L166.00,565.25 L166.50,565.25 L167.00,565.25 L167.50,565.25 L168.00,565.25 L168.50,565.25 L169.00,565.25 L169.50,565.25 L170.00,565.25 L170.50,565.25 L171.00,565.24 L171.50,565.24 L172.00,565.24 L172.50,565.24 L173.00,565.24 L173.50,565.24 L174.00,565.24 L174.50,565.24 L175.00,565.24 L175.50,565.24 L176.00,565.24 L176.50,565.24 L177.00,565.23 L177.50,565.23 L178.00,565.23 L178.50,565.23 L179.00,565.23 L179.50,565.23 L180.00,565.23 L180.50,565.23 L181.00,565.23 L181.50,565.22 L182.00,565.22 L182.50,565.22 L183.00,565.22 L183.50,565.22 L184.00,565.22 L184.50,565.22 L185.00,565.22 L185.50,565.21 L186.00,565.21 L186.50,565.21 L187.00,565.21 L187.50,565.21 L188.00,565.21 L188.50,565.20 L189.00,565.20 L189.50,565.20 L190.00,565.20 L190.50,565.20 L191.00,565.19 L191.50,565.19 L192.00,565.19 L192.50,565.19 L193.00,565.19 L193.50,565.18 L194.00,565.18 L194.50,565.18 L195.00,565.18 L195.50,565.17 L196.00,565.17 L196.50,565.17 L197.00,565.17 L197.50,565.16 L198.00,565.16 L198.50,565.16 L199.00,565.15 L199.50,565.15 L200.00,565.15 L200.50,565.14 L201.00,565.14 L201.50,565.14 L202.00,565.13 L202.50,565.13 L203.00,565.12 L203.50,565.12 L204.00,565.11 L204.50,565.11 L205.00,565.10 L205.50,565.10 L206.00,565.09 L206.50,565.08 L207.00,565.07 L207.50,565.07 L208.00,565.06 L208.50,565.05 L209.00,565.04 L209.50,565.02 L210.00,565.01 L210.50,565.00 L211.00,564.98 L211.50,564.97 L212.00,564.95 L212.50,564.93 L213.00,564.90 L213.50,564.88 L214.00,564.85 L214.50,564.82 L215.00,564.79 L215.50,564.75 L216.00,564.72 L216.50,564.67 L217.00,564.62 L217.50,564.57 L218.00,564.52 L218.50,564.45 L219.00,564.39 L219.50,564.31 L220.00,564.23 L220.50,564.15 L221.00,564.05 L221.50,563.95 L222.00,563.85 L222.50,563.73 L223.00,563.61 L223.50,563.47 L224.00,563.33 L224.50,563.18 L225.00,563.03 L225.50,562.86 L226.00,562.68 L226.50,562.50 L227.00,562.30 L227.50,562.10 L228.00,561.89 L228.50,561.67 L229.00,561.45 L229.50,561.22 L230.00,560.98 L230.50,560.74 L231.00,560.49 L231.50,560.24 L232.00,559.99 L232.50,559.73 L233.00,559.48 L233.50,559.23 L234.00,558.98 L234.50,558.73 L235.00,558.49 L235.50,558.25 L236.00,558.03 L236.50,557.81 L237.00,557.61 L237.50,557.42 L238.00,557.25 L238.50,557.10 L239.00,556.96 L239.50,556.84 L240.00,556.75 L240.50,556.68 L241.00,556.63 L241.50,556.60 L242.00,556.60 L242.50,556.63 L243.00,556.68 L243.50,556.75 L244.00,556.84 L244.50,556.96 L245.00,557.10 L245.50,557.25 L246.00,557.42 L246.50,557.61 L247.00,557.81 L247.50,558.03 L248.00,558.25 L248.50,558.49 L249.00,558.73 L249.50,558.98 L250.00,559.23 L250.50,559.48 L251.00,559.73 L251.50,559.99 L252.00,560.24 L252.50,560.49 L253.00,560.74 L253.50,560.98 L254.00,561.22 L254.50,561.45 L255.00,561.67 L255.50,561.89 L256.00,562.10 L256.50,562.30 L257.00,562.50 L257.50,562.68 L258.00,562.86 L258.50,563.03 L259.00,563.18 L259.50,563.33 L260.00,563.47 L260.50,563.61 L261.00,563.73 L261.50,563.85 L262.00,563.95 L262.50,564.05 L263.00,564.15 L263.50,564.23 L264.00,564.31 L264.50,564.39 L265.00,564.45 L265.50,564.52 L266.00,564.57 L266.50,564.62 L267.00,564.67 L267.50,564.72 L268.00,564.75 L268.50,564.79 L269.00,564.82 L269.50,564.85 L270.00,564.88 L270.50,564.90 L271.00,564.93 L271.50,564.95 L272.00,564.97 L272.50,564.98 L273.00,565.00 L273.50,565.01 L274.00,565.02 L274.50,565.04 L275.00,565.05 L275.50,565.06 L276.00,565.07 L276.50,565.07 L277.00,565.08 L277.50,565.09 L278.00,565.10 L278.50,565.10 L279.00,565.11 L279.50,565.11 L280.00,565.12 L280.50,565.12 L281.00,565.13 L281.50,565.13 L282.00,565.14 L282.50,565.14 L283.00,565.14 L283.50,565.15 L284.00,565.15 L284.50,565.15 L285.00,565.16 L285.50,565.16 L286.00,565.16 L286.50,565.17 L287.00,565.17 L287.50,565.17 L288.00,565.17 L288.50,565.18 L289.00,565.18 L289.50,565.18 L290.00,565.18 L290.50,565.19 L291.00,565.19 L291.50,565.19 L292.00,565.19 L292.50,565.19 L293.00,565.20 L293.50,565.20 L294.00,565.20 L294.50,565.20 L295.00,565.20 L295.50,565.21 L296.00,565.21 L296.50,565.21 L297.00,565.21 L297.50,565.21 L298.00,565.21 L298.50,565.22 L299.00,565.22 L299.50,565.22 L300.00,565.22 L300.50,565.22 L301.00,565.22 L301.50,565.22 L302.00,565.22 L302.50,565.23 L303.00,565.23 L303.50,565.23 L304.00,565.23 L304.50,565.23 L305.00,565.23 L305.50,565.23 L306.00,565.23 L306.50,565.23 L307.00,565.24 L307.50,565.24 L308.00,565.24 L308.50,565.24 L309.00,565.24 L309.50,565.24 L310.00,565.24 L310.50,565.24 L311.00,565.24 L311.50,565.24 L312.00,565.24 L312.50,565.24 L313.00,565.25 L313.50,565.25 L314.00,565.25 L314.50,565.25 L315.00,565.25 L315.50,565.25 L316.00,565.25 L316.50,565.25 L317.00,565.25 L317.50,565.25 L318.00,565.25 L318.50,565.25 L319.00,565.25 L319.50,565.25 L320.00,565.25 L320.50,565.26 L321.00,565.26 L321.50,565.26 L322.00,565.26 L322.50,565.26 L323.00,565.26 L323.50,565.26 L324.00,565.26 L324.50,565.26 L325.00,565.26 L325.50,565.26 L326.00,565.26 L326.50,565.26 L327.00,565.26 L327.50,565.26 L328.00,565.26 L328.50,565.26 L329.00,565.26 L329.50,565.26 L330.00,565.26 L330.50,565.26 L331.00,565.26 L331.50,565.27 L332.00,565.27 L332.50,565.27 L333.00,565.27 L333.50,565.27 L334.00,565.27 L334.50,565.27 L335.00,565.27 L335.50,565.27 L336.00,565.27 L336.50,565.27 L337.00,565.27 L337.50,565.27 L338.00,565.27 L338.50,565.27 L339.00,565.27 L339.50,565.27 L340.00,565.27 L340.50,565.27 L341.00,565.27 L341.50,565.27 L342.00,565.27 L342.50,565.27 L343.00,565.27 L343.50,565.27 L344.00,565.27 L344.50,565.27 L345.00,565.27 L345.50,565.27 L346.00,565.27 L346.50,565.27 L347.00,565.27 L347.50,565.27 L348.00,565.28 L348.50,565.28 L349.00,565.28 L349.50,565.28 L350.00,565.28 L350.50,565.28 L351.00,565.28 L351.50,565.28 L352.00,565.28 L352.50,565.28 L353.00,565.28 L353.50,565.28 L354.00,565.28 L354.50,565.28 L355.00,565.28 L355.50,565.28 L356.00,565.28 L356.50,565.28 L357.00,565.28 L357.50,565.28 L358.00,565.28 L358.50,565.28 L359.00,565.28 L359.50,565.28 L360.00,565.28 L360.50,565.28 L361.00,565.28 L361.50,565.28 L362.00,565.28 L362.50,565.28 L363.00,565.28 L363.50,565.28 L364.00,565.28 L364.50,565.28 L365.00,565.28 L365.50,565.28 L366.00,565.28 L366.50,565.28 L367.00,565.28 L367.50,565.28 L368.00,565.28 L368.50,565.28 L369.00,565.28 L369.50,565.28 L370.00,565.28" fill="none" stroke="#000080" stroke-width="1.7"/>
<line x1="48.00" y1="565.3" x2="213.50" y2="565.3" stroke="#000080" stroke-width="2.0"/>
<line x1="270.50" y1="565.3" x2="370.00" y2="565.3" stroke="#000080" stroke-width="2.0"/>
</g>
<rect x="48" y="334.2" width="322.2" height="235.59999999999997" fill="none" stroke="#000" stroke-width="2"/>
<line x1="48" y1="380.1" x2="54" y2="380.1" stroke="#000" stroke-width="2"/>
<line x1="48" y1="426.3" x2="54" y2="426.3" stroke="#000" stroke-width="2"/>
<line x1="48" y1="472.6" x2="54" y2="472.6" stroke="#000" stroke-width="2"/>
<line x1="48" y1="518.9" x2="54" y2="518.9" stroke="#000" stroke-width="2"/>
<line x1="155.40" y1="569.8" x2="155.40" y2="564.8" stroke="#000" stroke-width="2"/>
<line x1="262.80" y1="569.8" x2="262.80" y2="564.8" stroke="#000" stroke-width="2"/>
<rect x="63.5" y="39.6" width="43.9" height="23.6" fill="#fff" stroke="#a0a0a0" stroke-width="1"/>
<rect x="56.3" y="339.5" width="103.1" height="24" fill="#fff" stroke="#a0a0a0" stroke-width="1"/>
<text transform="translate(3.86,20.2) rotate(0) scale(0.9806,1)" font-size="20.3" fill="#000">(a)</text>
<text transform="translate(3.77,328.0) rotate(0) scale(0.9425,1)" font-size="20.3" fill="#000">(b)</text>
<text transform="translate(69.61,56.7) rotate(0) scale(0.9646,1)" font-size="14.6" fill="#000">RGO</text>
<text transform="translate(63.86,356.82) rotate(0) scale(0.9973,1)" font-size="14.6" fill="#000">H-RGO (72 h)</text>
<text transform="translate(263.58,43.2) rotate(0) scale(1.0502,1)" font-size="15.2" fill="#f00">A</text>
<text transform="translate(275.34,50.01) rotate(0) scale(1.0745,1)" font-size="8.3" fill="#f00">c=c</text>
<text transform="translate(290.87,44.26) rotate(0) scale(0.998,1)" font-size="15.2" fill="#f00">/A</text>
<text transform="translate(307.01,50.67) rotate(0) scale(1.0817,1)" font-size="8.3" fill="#f00">c-c</text>
<text transform="translate(319.92,42.9) rotate(0) scale(1.019,1)" font-size="15.0" fill="#f00">: 2.88</text>
<text transform="translate(265.92,353.1) rotate(0) scale(1.0241,1)" font-size="15.2" fill="#f00">A</text>
<text transform="translate(277.79,360.71) rotate(0) scale(1.1012,1)" font-size="8.3" fill="#f00">c=c</text>
<text transform="translate(293.43,353.3) rotate(0) scale(1.0166,1)" font-size="15.2" fill="#f00">/A</text>
<text transform="translate(309.27,360.06) rotate(0) scale(1.0785,1)" font-size="8.3" fill="#f00">c-c</text>
<text transform="translate(322.13,353.4) rotate(0) scale(1.0464,1)" font-size="15.0" fill="#f00">: 3.79</text>
<text transform="translate(157.88,77.3) rotate(0) scale(1.0088,1)" font-size="11.8" fill="#000">sp<tspan font-size="0.6em" dy="-0.833em">2</tspan><tspan dy="0.5em">C (284.5)</tspan></text>
<text transform="translate(174.91,180.84) rotate(0) scale(0.9699,1)" font-size="11.8" fill="#000">sp<tspan font-size="0.6em" dy="-0.833em">3</tspan><tspan dy="0.5em">C (285.6)</tspan></text>
<text transform="translate(198.21,202.36) rotate(0) scale(0.9651,1)" font-size="11.8" fill="#000">-C-O (286.7)</text>
<text transform="translate(222.97,221.3) rotate(0) scale(0.9533,1)" font-size="11.8" fill="#000">-C=O (287.8)</text>
<text transform="translate(268.96,236.86) rotate(0) scale(0.9517,1)" font-size="11.8" fill="#000">-COO (288.8)</text>
<text transform="translate(161.99,372.37) rotate(0) scale(0.9727,1)" font-size="11.8" fill="#000">sp<tspan font-size="0.6em" dy="-0.833em">2</tspan><tspan dy="0.5em">C (284.5)</tspan></text>
<text transform="translate(170.56,486.82) rotate(0) scale(0.9738,1)" font-size="11.8" fill="#000">sp<tspan font-size="0.6em" dy="-0.833em">3</tspan><tspan dy="0.5em">C (285.6)</tspan></text>
<text transform="translate(200.02,519.42) rotate(0) scale(0.9749,1)" font-size="11.8" fill="#000">-C-O (286.7)</text>
<text transform="translate(226.31,538.76) rotate(0) scale(0.9657,1)" font-size="11.8" fill="#000">-C=O (287.8)</text>
<text transform="translate(283.45,554.0) rotate(0) scale(0.9575,1)" font-size="11.8" fill="#000">-COO (288.8)</text>
<text transform="translate(33.99,277.98) rotate(0) scale(0.9606,1)" font-size="14.9" fill="#000">280</text>
<text transform="translate(141.24,278.0) rotate(0) scale(0.9613,1)" font-size="14.9" fill="#000">285</text>
<text transform="translate(248.88,277.99) rotate(0) scale(0.9444,1)" font-size="14.9" fill="#000">290</text>
<text transform="translate(356.12,278.0) rotate(0) scale(0.9251,1)" font-size="14.9" fill="#000">295</text>
<text transform="translate(35.77,586.79) rotate(0) scale(0.9373,1)" font-size="14.9" fill="#000">280</text>
<text transform="translate(143.26,586.8) rotate(0) scale(0.9515,1)" font-size="14.9" fill="#000">285</text>
<text transform="translate(250.44,586.79) rotate(0) scale(0.9564,1)" font-size="14.9" fill="#000">290</text>
<text transform="translate(358.28,587.0) rotate(0) scale(0.9505,1)" font-size="14.9" fill="#000">295</text>
<text transform="translate(128.25,304.5) rotate(0) scale(1.0119,1)" font-size="16.4" fill="#000">Binding energy (eV)</text>
<text transform="translate(130.12,613.5) rotate(0) scale(1.0124,1)" font-size="16.4" fill="#000">Binding energy (eV)</text>
<text transform="translate(26.7,208.71) rotate(-90) scale(0.9511,1)" font-size="17.9" fill="#000">Intensity (a. u.)</text>
<text transform="translate(23.2,517.73) rotate(-90) scale(0.9536,1)" font-size="17.9" fill="#000">Intensity (a. u.)</text>
<line x1="156.60" y1="82.20" x2="152.32" y2="91.34" stroke="#3a3a3a" stroke-width="0.75"/>
<path d="M149.56,97.22 L150.69,90.57 L153.95,92.10 Z" fill="#000"/>
<line x1="178.70" y1="188.10" x2="170.84" y2="205.60" stroke="#3a3a3a" stroke-width="0.75"/>
<path d="M168.17,211.53 L169.19,204.86 L172.48,206.34 Z" fill="#000"/>
<line x1="198.70" y1="213.10" x2="191.78" y2="229.83" stroke="#3a3a3a" stroke-width="0.75"/>
<path d="M189.29,235.84 L190.12,229.14 L193.44,230.52 Z" fill="#000"/>
<line x1="230.70" y1="226.60" x2="227.33" y2="235.47" stroke="#3a3a3a" stroke-width="0.75"/>
<path d="M225.02,241.55 L225.64,234.83 L229.01,236.11 Z" fill="#000"/>
<line x1="268.20" y1="235.10" x2="256.68" y2="241.52" stroke="#3a3a3a" stroke-width="0.75"/>
<path d="M251.00,244.69 L255.80,239.95 L257.56,243.10 Z" fill="#000"/>
<line x1="161.90" y1="378.70" x2="153.32" y2="390.14" stroke="#3a3a3a" stroke-width="0.75"/>
<path d="M149.42,395.34 L151.88,389.06 L154.76,391.22 Z" fill="#000"/>
<line x1="175.70" y1="493.10" x2="171.68" y2="509.17" stroke="#3a3a3a" stroke-width="0.75"/>
<path d="M170.11,515.48 L169.94,508.73 L173.43,509.61 Z" fill="#000"/>
<line x1="201.60" y1="527.30" x2="198.08" y2="537.42" stroke="#3a3a3a" stroke-width="0.75"/>
<path d="M195.94,543.56 L196.38,536.83 L199.78,538.01 Z" fill="#000"/>
<line x1="231.20" y1="542.30" x2="230.30" y2="544.44" stroke="#3a3a3a" stroke-width="0.75"/>
<path d="M227.79,550.44 L228.64,543.75 L231.96,545.14 Z" fill="#000"/>
<line x1="276.60" y1="551.20" x2="266.81" y2="553.82" stroke="#3a3a3a" stroke-width="0.75"/>
<path d="M260.53,555.51 L266.34,552.09 L267.27,555.56 Z" fill="#000"/>
</svg></body></html>
